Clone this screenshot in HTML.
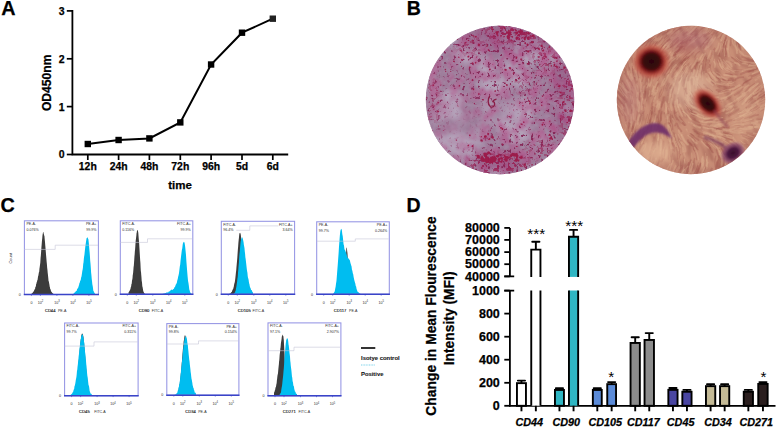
<!DOCTYPE html>
<html><head><meta charset="utf-8"><style>
html,body{margin:0;padding:0;background:#fff;overflow:hidden;width:778px;height:428px;}
svg{display:block;}
text{font-family:"Liberation Sans",sans-serif;}
.b{font-weight:bold;stroke:#000;stroke-width:0.25px;}
.bi{font-weight:bold;font-style:italic;stroke:#000;stroke-width:0.25px;}
.r{font-weight:normal;}
.t{font-size:3.6px;fill:#2a2a2a;}
.t2{font-size:4.15px;fill:#111;stroke:#111;stroke-width:0.12px;}
</style></head><body>
<svg width="778" height="428" viewBox="0 0 778 428">
<defs>
<clipPath id="cL"><circle cx="500" cy="100" r="74.2"/></clipPath>
<clipPath id="cR"><circle cx="691" cy="100" r="74.2"/></clipPath>
<radialGradient id="gL" cx="0.35" cy="0.6" r="0.6">
  <stop offset="0" stop-color="#c8c0cc" stop-opacity="0.5"/>
  <stop offset="1" stop-color="#c8c0cc" stop-opacity="0"/>
</radialGradient>
<radialGradient id="gR" cx="0.5" cy="0.5" r="0.5">
  <stop offset="0.8" stop-color="#a06060" stop-opacity="0"/>
  <stop offset="1" stop-color="#a06060" stop-opacity="0.25"/>
</radialGradient>
<radialGradient id="spot1" cx="0.5" cy="0.5" r="0.5">
  <stop offset="0" stop-color="#2a0508"/>
  <stop offset="0.42" stop-color="#3a0a0c"/>
  <stop offset="0.55" stop-color="#7a1a1c"/>
  <stop offset="0.72" stop-color="#b8463a" stop-opacity="0.8"/>
  <stop offset="1" stop-color="#d07060" stop-opacity="0"/>
</radialGradient>
<radialGradient id="spot2" cx="0.5" cy="0.5" r="0.5">
  <stop offset="0" stop-color="#3a0e2a"/>
  <stop offset="0.4" stop-color="#4e1a40"/>
  <stop offset="0.7" stop-color="#7a3a66" stop-opacity="0.7"/>
  <stop offset="1" stop-color="#8a4070" stop-opacity="0"/>
</radialGradient>
<filter id="soft"><feGaussianBlur stdDeviation="0.6"/></filter>
<filter id="soft1" x="-20%" y="-20%" width="140%" height="140%"><feGaussianBlur stdDeviation="1.2"/></filter>
<filter id="blur3" x="-50%" y="-50%" width="200%" height="200%"><feGaussianBlur stdDeviation="5"/></filter>
<filter id="fRed" x="0" y="0" width="100%" height="100%" color-interpolation-filters="sRGB">
  <feTurbulence type="fractalNoise" baseFrequency="0.32" numOctaves="2" seed="4"/>
  <feColorMatrix type="matrix" values="0 0 0 0 0.53  0 0 0 0 0.16  0 0 0 0 0.35  9 0 0 0 -5.5"/>
  <feGaussianBlur stdDeviation="0.5"/>
</filter>
<filter id="fRed2" x="0" y="0" width="100%" height="100%" color-interpolation-filters="sRGB">
  <feTurbulence type="fractalNoise" baseFrequency="0.25" numOctaves="3" seed="21"/>
  <feColorMatrix type="matrix" values="0 0 0 0 0.60  0 0 0 0 0.12  0 0 0 0 0.32  22 0 0 0 -12.2"/>
  <feGaussianBlur stdDeviation="0.6"/>
</filter>
<filter id="fGrain" x="0" y="0" width="100%" height="100%" color-interpolation-filters="sRGB">
  <feTurbulence type="fractalNoise" baseFrequency="0.45" numOctaves="2" seed="11"/>
  <feColorMatrix type="matrix" values="0 0 0 0 0.68  0 0 0 0 0.60  0 0 0 0 0.70  3 0 0 0 -1.35"/>
  <feGaussianBlur stdDeviation="0.8"/>
</filter>
<filter id="fLight" x="0" y="0" width="100%" height="100%" color-interpolation-filters="sRGB">
  <feTurbulence type="fractalNoise" baseFrequency="0.03" numOctaves="2" seed="15"/>
  <feColorMatrix type="matrix" values="0 0 0 0 0.71  0 0 0 0 0.64  0 0 0 0 0.73  6 0 0 0 -2.8"/>
  <feGaussianBlur stdDeviation="1.5"/>
</filter>
<filter id="fPink" x="0" y="0" width="100%" height="100%" color-interpolation-filters="sRGB">
  <feTurbulence type="fractalNoise" baseFrequency="0.1" numOctaves="3" seed="9"/>
  <feColorMatrix type="matrix" values="0 0 0 0 0.70  0 0 0 0 0.33  0 0 0 0 0.54  6 0 0 0 -2.6"/>
  <feGaussianBlur stdDeviation="1.0"/>
</filter>
<filter id="fStreak" x="0" y="0" width="100%" height="100%" color-interpolation-filters="sRGB">
  <feTurbulence type="fractalNoise" baseFrequency="0.2 0.06" numOctaves="3" seed="2"/>
  <feColorMatrix type="matrix" values="0 0 0 0 0.60  0 0 0 0 0.33  0 0 0 0 0.30  4 0 0 0 -1.85"/>
  <feGaussianBlur stdDeviation="0.8"/>
</filter>
<filter id="fStreak2" x="0" y="0" width="100%" height="100%" color-interpolation-filters="sRGB">
  <feTurbulence type="fractalNoise" baseFrequency="0.07 0.2" numOctaves="3" seed="7"/>
  <feColorMatrix type="matrix" values="0 0 0 0 0.93  0 0 0 0 0.78  0 0 0 0 0.66  4 0 0 0 -2.0"/>
  <feGaussianBlur stdDeviation="0.8"/>
</filter>
<mask id="mPink" maskUnits="userSpaceOnUse" x="420" y="20" width="160" height="160">
  <rect x="420" y="20" width="160" height="160" fill="#c0c0c0"/>
  <g filter="url(#blur8)">
  <ellipse cx="520" cy="45" rx="45" ry="20" fill="#fff"/>
  <ellipse cx="560" cy="110" rx="15" ry="40" fill="#eee"/>
  <ellipse cx="495" cy="160" rx="35" ry="12" fill="#eee"/>
  <ellipse cx="458" cy="125" rx="22" ry="30" fill="#404040"/>
  <ellipse cx="510" cy="108" rx="14" ry="14" fill="#606060"/>
  <ellipse cx="455" cy="60" rx="14" ry="14" fill="#707070"/>
  </g>
</mask>
<mask id="mRedBase" maskUnits="userSpaceOnUse" x="420" y="20" width="160" height="160">
  <rect x="420" y="20" width="160" height="160" fill="#fff"/>
  <g filter="url(#blur8)">
  <ellipse cx="462" cy="128" rx="26" ry="28" fill="#202020"/>
  <ellipse cx="505" cy="110" rx="14" ry="16" fill="#404040"/>
  <ellipse cx="445" cy="75" rx="12" ry="16" fill="#606060"/>
  </g>
</mask>
<mask id="mRed" maskUnits="userSpaceOnUse" x="420" y="20" width="160" height="160">
  <rect x="420" y="20" width="160" height="160" fill="#000"/>
  <g filter="url(#blur6)">
  <ellipse cx="515" cy="33" rx="32" ry="9" fill="#fff"/>
  <ellipse cx="470" cy="45" rx="14" ry="8" fill="#999"/>
  <ellipse cx="568" cy="105" rx="8" ry="40" fill="#ccc"/>
  <ellipse cx="545" cy="60" rx="14" ry="12" fill="#aaa"/>
  <ellipse cx="497" cy="165" rx="30" ry="9" fill="#fff"/>
  <ellipse cx="540" cy="150" rx="14" ry="10" fill="#999"/>
  <ellipse cx="432" cy="100" rx="6" ry="25" fill="#888"/>
  <ellipse cx="525" cy="85" rx="10" ry="10" fill="#777"/>
  </g>
</mask>
<filter id="blur6" x="-50%" y="-50%" width="200%" height="200%"><feGaussianBlur stdDeviation="5"/></filter>
<filter id="blur8" x="-50%" y="-50%" width="200%" height="200%"><feGaussianBlur stdDeviation="8"/></filter>
</defs>
<rect width="778" height="428" fill="#fff"/>
<text x="1.2" y="15.4" class="b" font-size="19.8">A</text>
<path d="M72.4 10.1V155.3M71.6 154.5H288.2" stroke="#000" stroke-width="1.8" fill="none"/>
<path d="M66.8 154.5H72.5" stroke="#000" stroke-width="1.7"/>
<text x="64.6" y="158.4" class="b" font-size="10.5" text-anchor="end">0</text>
<path d="M66.8 106.6H72.5" stroke="#000" stroke-width="1.7"/>
<text x="64.6" y="110.5" class="b" font-size="10.5" text-anchor="end">1</text>
<path d="M66.8 58.8H72.5" stroke="#000" stroke-width="1.7"/>
<text x="64.6" y="62.7" class="b" font-size="10.5" text-anchor="end">2</text>
<path d="M66.8 10.9H72.5" stroke="#000" stroke-width="1.7"/>
<text x="64.6" y="14.8" class="b" font-size="10.5" text-anchor="end">3</text>
<path d="M87.8 154.5V160" stroke="#000" stroke-width="1.7"/>
<text x="87.8" y="170.2" class="b" font-size="10.4" text-anchor="middle">12h</text>
<path d="M118.6 154.5V160" stroke="#000" stroke-width="1.7"/>
<text x="118.6" y="170.2" class="b" font-size="10.4" text-anchor="middle">24h</text>
<path d="M149.4 154.5V160" stroke="#000" stroke-width="1.7"/>
<text x="149.4" y="170.2" class="b" font-size="10.4" text-anchor="middle">48h</text>
<path d="M180.3 154.5V160" stroke="#000" stroke-width="1.7"/>
<text x="180.3" y="170.2" class="b" font-size="10.4" text-anchor="middle">72h</text>
<path d="M211.1 154.5V160" stroke="#000" stroke-width="1.7"/>
<text x="211.1" y="170.2" class="b" font-size="10.4" text-anchor="middle">96h</text>
<path d="M242 154.5V160" stroke="#000" stroke-width="1.7"/>
<text x="242" y="170.2" class="b" font-size="10.4" text-anchor="middle">5d</text>
<path d="M272.8 154.5V160" stroke="#000" stroke-width="1.7"/>
<text x="272.8" y="170.2" class="b" font-size="10.4" text-anchor="middle">6d</text>
<text x="180" y="188.9" class="b" font-size="11.5" text-anchor="middle">time</text>
<text transform="translate(51.2 82.8) rotate(-90)" class="b" font-size="12.1" text-anchor="middle">OD450nm</text>
<polyline points="87.8,144 118.6,140 149.4,138.4 180.3,122.4 211.1,64.5 242,32.7 272.8,18.7" fill="none" stroke="#000" stroke-width="2"/>
<rect x="84.6" y="140.8" width="6.4" height="6.4" fill="#000"/>
<rect x="115.39999999999999" y="136.8" width="6.4" height="6.4" fill="#000"/>
<rect x="146.20000000000002" y="135.20000000000002" width="6.4" height="6.4" fill="#000"/>
<rect x="177.10000000000002" y="119.2" width="6.4" height="6.4" fill="#000"/>
<rect x="207.9" y="61.3" width="6.4" height="6.4" fill="#000"/>
<rect x="238.8" y="29.500000000000004" width="6.4" height="6.4" fill="#000"/>
<rect x="269.6" y="15.5" width="6.4" height="6.4" fill="#222"/>
<text x="406.7" y="15.2" class="b" font-size="19.5">B</text>
<g clip-path="url(#cL)">
<rect x="420" y="20" width="160" height="160" fill="#9c7a98"/>
<rect x="420" y="20" width="160" height="160" filter="url(#fLight)"/>
<rect x="420" y="20" width="160" height="160" filter="url(#fPink)" mask="url(#mPink)"/>
<rect x="420" y="20" width="160" height="160" filter="url(#fGrain)"/>
<g filter="url(#blur6)" opacity="0.35">
<ellipse cx="512" cy="38" rx="50" ry="14" fill="#8a3a70"/>
<ellipse cx="562" cy="95" rx="10" ry="40" fill="#8a3a70"/>
<ellipse cx="495" cy="163" rx="35" ry="10" fill="#8a3a70"/>
</g>
<rect x="420" y="20" width="160" height="160" filter="url(#fRed)" mask="url(#mRedBase)"/>
<rect x="420" y="20" width="160" height="160" filter="url(#fRed2)" mask="url(#mRed)"/>
<g fill="#9c1c4c" filter="url(#soft)"><polygon points="487.6,154.2 485.6,155.6 484.3,155.4 484.5,154.1 486.3,153.2"/>
<polygon points="487.1,154.7 487.2,157.4 484.1,156.7 483.5,155.4 483.3,153.1 486.4,152.5"/>
<polygon points="496.3,159.3 496.3,161.3 492.8,162.8 490.8,160.6 491.5,158.8 494.3,156.1 495.6,157.5"/>
<polygon points="490.5,152.9 490.1,153.5 488.1,154.4 486.8,153.6 487.2,152.2 488.2,151.2 489.8,151.8"/>
<polygon points="499.6,156.7 497.3,157.8 496.0,157.1 495.5,155.4 497.9,154.7"/>
<polygon points="495.7,157.1 494.9,158.2 493.0,157.8 493.1,156.4 494.8,156.1"/>
<polygon points="486.8,155.8 486.2,156.6 484.4,156.0 484.9,154.7 486.2,153.8"/>
<polygon points="492.7,159.3 491.8,160.5 490.2,161.3 489.0,160.0 489.9,158.7 491.1,158.2"/>
<polygon points="492.8,159.8 492.0,161.5 489.8,161.4 488.9,160.1 489.8,158.7 491.3,158.8"/>
<polygon points="485.5,159.8 483.9,161.7 482.4,161.7 481.0,160.2 481.0,158.6 482.7,158.1 483.9,157.6"/>
<polygon points="490.3,158.7 488.0,161.6 485.6,160.5 485.4,156.9 487.7,156.7"/>
<polygon points="493.4,160.3 492.6,163.4 490.8,163.1 489.5,161.3 490.3,158.5 492.0,158.5"/>
<polygon points="489.3,159.4 488.3,161.0 485.0,160.5 485.2,158.2 488.2,156.1"/>
<polygon points="491.5,162.7 490.3,164.0 489.0,163.5 488.6,161.7 490.0,161.5"/>
<polygon points="490.1,161.1 487.7,162.7 486.1,163.6 484.2,160.4 486.0,158.8 488.5,159.1"/>
<polygon points="479.9,156.8 479.9,158.7 477.0,158.5 476.7,157.0 476.6,154.8 479.5,154.9"/>
<polygon points="484.4,158.9 483.8,159.7 482.7,160.1 482.3,159.1 483.0,157.9 483.8,158.0"/>
<polygon points="488.0,159.8 488.4,161.7 486.4,162.1 485.9,160.0 485.3,159.3 487.0,157.5 488.5,157.8"/>
<polygon points="483.7,158.0 482.7,159.7 480.5,160.2 480.1,157.4 482.2,156.8"/>
<polygon points="494.0,157.3 493.0,159.9 491.1,158.4 489.5,156.9 491.1,156.8 492.6,156.0"/>
<polygon points="483.5,157.7 482.2,158.4 481.2,158.8 481.1,157.5 481.5,156.0 482.7,155.9"/>
<polygon points="492.3,158.1 491.5,159.9 490.4,159.1 490.1,157.2 491.4,157.5"/>
<polygon points="501.2,162.1 500.6,162.5 499.5,162.5 499.2,161.9 498.9,160.9 499.7,160.5 500.6,161.0"/>
<polygon points="500.9,158.8 499.8,160.4 498.5,161.1 497.9,159.4 498.5,157.6 500.5,157.9"/>
<polygon points="497.3,158.5 494.9,160.8 493.3,160.0 493.7,157.8 495.8,157.5"/>
<polygon points="491.6,153.8 490.8,154.3 489.9,154.5 489.0,154.0 490.1,153.0 490.8,153.3"/>
<polygon points="499.5,160.1 499.7,160.9 497.9,160.8 497.4,159.8 498.1,158.7 499.0,158.7"/>
<polygon points="494.8,158.8 494.2,160.5 491.9,160.5 492.2,158.4 493.6,157.6"/>
<polygon points="502.6,161.5 502.4,162.2 501.8,162.9 500.6,162.3 500.8,161.0 501.6,160.7 502.5,161.1"/>
<polygon points="494.7,159.9 494.1,160.7 493.3,160.6 493.1,159.3 494.4,159.2"/>
<polygon points="486.7,157.0 486.4,157.5 485.6,158.4 485.1,156.9 485.0,155.9 486.4,155.7"/>
<polygon points="500.6,155.0 499.1,156.0 498.1,156.0 497.3,155.6 498.0,154.4 499.3,154.0"/>
<polygon points="491.0,160.1 490.2,161.3 489.0,161.2 488.5,159.3 490.8,159.1"/>
<polygon points="503.1,158.7 501.9,159.0 500.9,159.4 500.8,158.5 501.1,157.2 502.4,157.5"/>
<polygon points="522.1,158.1 521.1,158.8 519.9,158.3 518.6,158.0 519.3,156.4 520.5,156.8"/>
<polygon points="508.0,158.9 506.8,161.1 505.2,160.8 503.2,159.9 504.4,158.5 505.3,156.6 506.7,158.4"/>
<polygon points="508.3,157.3 507.0,158.1 505.8,158.0 506.2,156.7 507.0,156.2"/>
<polygon points="513.3,154.7 511.9,156.9 510.8,157.4 509.4,155.8 510.2,154.5 511.3,154.0 511.6,154.3"/>
<polygon points="507.5,160.6 506.2,161.9 505.0,161.2 505.2,159.6 505.9,159.5"/>
<polygon points="510.1,157.3 509.4,157.9 508.5,158.1 508.1,157.3 508.5,156.9 508.8,156.0 509.6,156.3"/>
<polygon points="506.7,157.1 506.5,157.9 505.7,157.6 505.2,157.4 505.1,156.8 505.4,156.0 506.3,156.0"/>
<polygon points="506.6,157.0 506.1,157.7 504.3,157.8 504.0,155.6 506.2,155.9"/>
<polygon points="507.7,160.5 507.4,161.6 505.9,161.0 505.8,160.1 506.9,159.5"/>
<polygon points="509.7,157.6 508.2,159.6 505.9,158.2 505.6,156.7 507.1,155.8"/>
<polygon points="518.3,156.7 517.7,157.4 516.9,159.2 515.9,157.0 515.2,156.1 516.6,154.3 518.6,155.3"/>
<polygon points="516.3,155.2 515.4,156.7 513.4,156.4 512.2,155.0 513.5,153.0 515.6,153.4"/>
<polygon points="518.0,154.2 517.0,155.8 515.3,156.1 514.1,155.1 515.1,153.5 517.1,152.8"/>
<polygon points="505.5,155.3 505.0,156.7 503.7,155.9 503.5,154.6 504.6,154.8"/>
<polygon points="514.8,154.8 514.4,156.1 512.0,156.1 511.0,154.1 512.2,152.7 514.1,153.2"/>
<polygon points="517.8,158.4 516.5,159.9 514.9,160.2 515.4,158.4 516.2,158.0"/>
<polygon points="519.4,160.7 518.8,161.7 517.8,161.4 517.2,159.9 519.4,159.3"/>
<polygon points="525.7,164.5 525.8,165.7 525.1,166.1 524.0,165.4 523.7,163.6 524.6,163.5 525.6,163.4"/>
<polygon points="528.5,157.3 528.2,158.3 527.4,157.9 527.5,157.0 528.2,156.9"/>
<polygon points="522.9,157.0 522.5,158.0 520.9,159.0 520.0,157.4 521.0,155.8 522.5,156.5"/>
<polygon points="518.3,156.8 517.5,157.5 517.1,158.1 516.0,157.7 516.3,156.8 516.8,156.4 517.7,156.3"/>
<polygon points="518.3,159.6 517.0,162.1 514.1,161.2 515.0,159.4 516.7,158.8"/>
<polygon points="487.0,137.2 486.2,137.5 484.8,138.2 484.3,137.8 483.9,136.3 484.7,135.3 486.4,135.2"/>
<polygon points="493.9,137.3 493.5,138.8 491.9,138.6 491.1,137.5 492.1,135.7 493.0,135.7"/>
<polygon points="498.0,139.1 497.4,139.4 496.6,139.3 496.7,138.7 497.4,138.3"/>
<polygon points="482.8,140.5 482.7,141.7 480.2,141.3 480.6,139.3 482.2,139.5"/>
<polygon points="490.2,138.7 490.3,139.9 488.4,139.8 487.7,139.2 488.8,138.4 490.4,137.7"/>
<polygon points="489.2,133.8 488.7,135.1 487.9,135.4 487.4,134.2 487.2,133.1 487.4,132.8 488.8,133.1"/>
<polygon points="552.2,138.6 550.9,139.6 550.0,139.7 549.0,138.8 549.7,137.3 551.1,137.2"/>
<polygon points="550.3,140.4 550.1,140.8 549.6,141.0 549.1,140.6 549.1,140.0 549.7,140.0 550.0,140.1"/>
<polygon points="552.2,137.1 552.1,138.2 550.8,138.1 550.1,137.2 550.9,135.9 551.9,136.3"/>
<polygon points="553.0,138.9 553.0,139.9 551.9,139.7 551.3,139.5 551.0,138.8 551.7,138.3 553.0,138.3"/>
<polygon points="550.1,134.8 550.4,135.6 549.1,135.9 548.3,135.7 548.8,134.4 549.0,133.6 549.9,133.9"/>
<polygon points="476.8,155.6 476.1,156.2 475.2,155.9 475.1,155.4 476.2,154.9"/>
<polygon points="469.1,145.4 468.8,146.1 467.9,146.7 467.4,145.3 467.8,144.8 469.3,144.5"/>
<polygon points="469.5,150.1 469.0,150.5 468.7,150.4 468.6,149.8 469.1,149.2"/>
<polygon points="473.5,145.9 472.9,147.3 471.4,146.7 471.8,145.4 473.2,144.8"/>
<polygon points="525.2,166.6 524.8,167.1 524.0,166.9 524.4,166.3 525.0,165.8"/>
<polygon points="528.2,164.1 527.9,164.7 527.3,164.3 527.1,163.9 527.8,163.2"/>
<polygon points="532.9,165.0 532.3,165.6 531.0,165.3 531.2,164.5 532.6,163.9"/>
<polygon points="494.3,36.4 493.9,36.8 493.0,36.9 493.4,36.0 494.0,35.9"/>
<polygon points="504.9,36.6 504.3,37.2 503.8,37.4 503.1,36.9 503.4,36.5 503.7,35.9 504.8,36.1"/>
<polygon points="498.5,35.2 498.5,36.2 497.3,36.5 497.1,35.5 496.5,34.8 497.0,34.0 498.2,34.6"/>
<polygon points="523.4,31.2 522.7,31.8 522.3,31.9 521.9,31.7 521.7,31.1 522.4,30.3 522.8,30.6"/>
<polygon points="510.1,37.0 509.6,39.2 507.8,38.9 507.0,38.3 506.5,36.3 507.9,35.1 509.3,36.6"/>
<polygon points="526.9,34.4 526.4,35.7 524.8,35.3 525.4,33.8 526.3,33.3"/>
<polygon points="493.0,27.8 492.0,28.4 491.5,28.8 490.8,28.1 491.0,27.7 491.8,26.5 492.5,27.0"/>
<polygon points="509.7,30.6 509.3,31.5 508.7,31.9 507.7,31.1 508.1,30.6 508.4,29.8 509.4,30.1"/>
<polygon points="525.4,38.5 524.9,40.2 523.9,39.3 523.8,38.0 524.5,37.7"/>
<polygon points="518.6,32.9 517.5,33.5 516.8,34.2 515.3,33.8 515.3,31.6 517.0,31.4 517.9,32.0"/>
<polygon points="509.7,30.8 509.5,31.2 508.6,31.2 508.5,30.6 508.9,30.3 509.4,30.3"/>
<polygon points="529.7,33.3 529.0,34.2 527.6,34.4 527.0,33.8 527.4,32.7 527.5,31.4 529.1,32.0"/>
<polygon points="505.6,28.2 504.7,28.5 504.1,28.9 503.5,28.2 503.4,27.5 503.8,26.8 505.0,26.7"/>
<polygon points="519.2,37.2 518.6,37.5 518.2,37.8 517.6,37.2 518.1,36.7 518.7,36.4"/>
<polygon points="518.2,33.1 517.0,34.8 515.8,34.2 515.6,32.3 517.0,32.5"/>
<polygon points="518.9,37.8 517.4,39.7 516.1,40.0 515.4,38.0 516.2,36.6 517.8,36.8"/>
<polygon points="521.9,31.8 520.8,33.9 519.1,33.1 517.3,31.6 518.5,30.6 520.9,30.3"/>
<polygon points="522.4,38.0 521.9,39.0 521.3,38.3 521.1,37.5 521.9,37.4"/>
<polygon points="508.4,31.9 507.4,33.1 506.7,32.9 505.9,32.3 506.4,31.0 507.8,31.4"/>
<polygon points="510.1,35.1 509.4,35.5 508.3,35.8 507.7,34.8 507.9,33.5 509.1,34.1"/>
<polygon points="513.2,37.0 512.5,37.7 512.0,37.9 511.5,36.9 511.6,36.2 511.7,35.8 512.6,35.9"/>
<polygon points="526.0,37.1 525.0,38.0 524.4,37.9 523.6,37.9 523.6,36.5 524.6,36.7 525.2,36.7"/>
<polygon points="510.0,33.4 509.8,35.1 508.6,34.4 507.7,33.8 506.8,32.6 508.0,31.8 510.1,31.1"/>
<polygon points="526.7,33.0 525.9,33.8 525.3,33.7 524.8,32.4 525.6,32.3"/>
<polygon points="516.1,35.1 515.6,35.6 514.4,35.3 514.8,34.7 515.8,34.2"/>
<polygon points="508.7,35.6 508.5,36.4 507.8,36.6 507.4,36.0 507.3,35.4 507.9,35.3 508.3,35.3"/>
<polygon points="534.8,35.8 533.3,37.2 532.6,37.0 531.3,36.4 531.9,34.7 533.8,34.4"/>
<polygon points="512.9,30.0 512.8,31.3 511.4,30.5 511.3,29.1 512.3,29.2"/>
<polygon points="520.0,35.3 519.4,36.3 518.3,35.8 518.0,34.6 519.4,33.9"/>
<polygon points="494.2,29.7 493.3,30.1 492.4,30.1 491.1,29.7 492.6,28.4 493.1,28.5"/>
<polygon points="498.7,32.5 497.6,34.3 496.6,35.3 496.1,33.7 495.0,31.8 496.4,31.6 498.0,31.8"/>
<polygon points="524.7,34.7 524.6,35.5 523.9,35.0 524.0,34.5 524.4,34.5"/>
<polygon points="550.6,47.0 549.6,47.9 548.5,48.0 548.5,46.6 549.9,46.1"/>
<polygon points="528.9,37.7 528.6,39.0 526.3,38.6 527.1,37.2 528.2,36.2"/>
<polygon points="529.9,33.8 529.5,34.3 529.0,34.0 528.5,33.7 528.8,33.2 529.7,33.3"/>
<polygon points="503.8,43.8 503.7,44.4 503.1,44.1 502.7,43.5 503.7,43.1"/>
<polygon points="528.9,44.6 528.2,46.0 527.0,46.2 526.5,45.2 526.6,44.2 527.2,43.1 527.8,44.0"/>
<polygon points="520.1,39.5 519.6,40.2 518.7,39.9 517.7,39.1 518.7,38.4 519.7,37.5"/>
<polygon points="525.8,39.6 525.3,40.5 524.5,40.5 524.2,40.1 524.2,39.3 524.5,38.5 525.5,38.6"/>
<polygon points="511.0,36.4 509.9,36.5 508.2,37.4 508.2,36.2 508.8,35.0 510.1,34.4"/>
<polygon points="511.5,32.9 511.4,33.6 510.3,34.3 508.9,33.3 509.9,32.6 510.7,31.3 511.5,32.2"/>
<polygon points="529.1,37.0 528.8,38.1 527.3,38.2 527.5,37.3 527.7,36.7 528.8,36.5"/>
<polygon points="528.7,39.0 528.9,39.9 528.0,39.9 527.0,39.6 527.4,38.8 528.1,38.3 528.4,38.8"/>
<polygon points="533.7,47.1 533.2,47.6 532.7,47.2 532.5,46.6 533.3,46.5"/>
<polygon points="526.2,43.2 525.7,44.3 524.3,43.7 524.4,42.5 525.6,42.1"/>
<polygon points="533.5,42.7 532.7,43.3 531.8,43.7 531.4,42.5 531.7,41.1 532.8,41.2"/>
<polygon points="529.9,36.9 529.4,37.4 528.7,37.3 528.6,36.7 529.7,36.2"/>
<polygon points="527.5,32.9 527.7,34.1 526.7,33.8 525.8,33.3 525.4,32.5 526.8,31.7 527.1,32.3"/>
<polygon points="477.0,37.1 476.0,37.5 475.3,37.6 474.5,36.7 475.0,36.1 476.3,35.7"/>
<polygon points="489.5,50.2 489.7,51.3 488.3,51.1 487.5,50.1 488.5,49.0 489.2,49.6"/>
<polygon points="480.1,44.6 479.6,46.3 478.3,46.2 477.6,44.9 478.6,43.2 479.6,43.7"/>
<polygon points="474.0,40.5 473.8,41.4 473.1,41.3 472.1,41.0 472.1,39.8 472.7,39.4 473.7,40.2"/>
<polygon points="473.7,35.9 473.6,37.2 472.8,36.6 472.1,35.8 472.4,35.1 473.6,34.9"/>
<polygon points="487.8,46.2 487.7,46.8 486.9,46.8 486.2,46.7 486.2,45.7 487.1,45.5 487.6,45.4"/>
<polygon points="469.3,40.4 468.9,41.0 468.0,41.1 467.7,40.5 467.7,40.2 468.3,39.7 468.6,39.7"/>
<polygon points="487.3,43.9 486.9,44.8 486.1,44.2 486.2,43.7 487.1,43.4"/>
<polygon points="524.1,53.9 524.2,54.3 523.6,54.4 523.1,54.3 523.4,53.7 523.5,53.3 524.1,53.4"/>
<polygon points="542.9,46.4 543.0,47.4 541.3,47.1 540.6,46.8 540.5,45.4 540.7,44.8 542.4,44.5"/>
<polygon points="557.6,58.4 556.8,58.9 556.2,58.9 555.4,58.0 556.0,57.2 556.7,57.5"/>
<polygon points="539.6,56.9 539.4,58.1 538.5,57.7 537.6,57.5 537.6,56.2 538.7,56.2 539.7,55.9"/>
<polygon points="536.6,75.5 536.9,76.2 535.9,76.3 535.4,75.7 535.6,75.0 536.6,74.8"/>
<polygon points="523.1,63.7 522.4,64.3 522.1,64.2 522.1,63.5 522.8,63.2"/>
<polygon points="558.3,60.6 557.7,61.6 556.6,62.1 556.0,60.7 556.6,60.4 557.4,60.4"/>
<polygon points="558.0,66.9 557.3,68.2 556.1,67.3 555.3,66.0 557.2,66.1"/>
<polygon points="539.8,49.0 539.9,50.2 538.8,50.1 537.7,49.1 537.5,48.1 538.5,47.4 539.5,47.7"/>
<polygon points="555.3,65.3 555.0,66.5 553.8,65.8 553.4,65.1 553.9,64.0 555.0,63.8"/>
<polygon points="555.6,57.0 555.2,57.6 554.7,57.8 554.1,57.3 554.7,56.8 555.2,56.7"/>
<polygon points="528.7,63.4 528.2,64.6 527.5,64.8 526.8,64.3 526.8,63.0 527.3,62.9 528.1,63.0"/>
<polygon points="544.4,50.0 543.4,51.8 542.0,51.0 542.2,50.0 543.6,49.2"/>
<polygon points="540.8,64.3 540.0,65.1 539.5,65.2 539.1,64.6 539.6,63.8 540.0,64.0"/>
<polygon points="544.7,47.3 544.9,48.0 544.1,48.1 543.7,47.6 543.4,46.8 544.0,46.7 544.5,47.0"/>
<polygon points="529.4,50.8 529.0,52.4 527.4,52.4 527.0,51.2 527.8,50.6 528.6,50.2"/>
<polygon points="571.5,111.0 571.2,112.1 570.1,111.9 569.3,111.9 569.3,110.3 570.4,109.8 571.3,109.8"/>
<polygon points="560.8,85.7 559.8,87.5 557.4,86.7 558.4,85.5 559.5,84.7"/>
<polygon points="568.4,100.0 567.6,100.6 566.8,100.6 566.6,99.3 567.4,99.3"/>
<polygon points="561.7,91.7 561.3,93.0 560.1,93.3 559.3,92.5 559.3,91.5 559.6,91.2 560.8,91.7"/>
<polygon points="567.0,110.9 566.5,111.8 565.2,111.9 564.7,111.6 564.3,110.2 564.9,109.6 566.0,110.3"/>
<polygon points="558.3,134.0 557.9,134.7 557.4,134.3 557.3,133.6 558.1,133.5"/>
<polygon points="572.9,89.3 571.6,89.7 570.1,89.7 570.8,88.1 572.3,87.7"/>
<polygon points="564.5,102.2 564.2,103.2 562.8,103.4 561.8,102.3 562.8,101.2 563.7,101.0 564.7,100.5"/>
<polygon points="572.1,110.3 571.7,111.3 570.8,111.8 570.0,111.1 569.9,110.4 570.5,109.2 571.5,110.1"/>
<polygon points="570.0,96.2 569.8,96.9 569.1,96.9 568.8,95.8 569.7,95.7"/>
<polygon points="566.1,67.9 564.9,68.7 563.3,68.7 563.4,66.6 565.3,66.4"/>
<polygon points="568.1,122.6 567.9,122.9 567.2,123.3 566.6,122.7 566.4,122.1 567.2,121.9 567.9,121.7"/>
<polygon points="529.6,115.6 529.2,115.9 528.5,115.8 528.5,115.0 528.9,115.1"/>
<polygon points="524.7,122.2 524.3,122.7 523.5,123.1 522.8,122.0 523.0,121.5 524.3,121.6"/>
<polygon points="531.0,103.5 530.3,103.9 529.0,104.4 529.1,103.4 529.5,102.2 530.9,102.2"/>
<polygon points="550.5,123.2 550.1,123.5 549.8,123.3 549.5,122.7 550.2,122.7"/>
<polygon points="572.4,111.1 571.7,111.5 571.0,111.7 570.4,111.0 570.9,110.1 571.7,110.4"/>
<polygon points="550.7,99.2 550.6,99.6 549.8,99.7 549.7,99.3 549.7,98.8 550.0,98.6 550.4,98.6"/>
<polygon points="561.3,104.9 560.5,105.9 559.5,105.5 559.0,104.4 560.8,103.9"/>
<polygon points="542.5,105.0 542.0,106.2 540.9,105.5 541.2,104.8 541.8,104.6"/>
<polygon points="551.9,65.4 552.2,66.3 550.5,66.4 550.7,65.3 550.5,64.4 551.6,64.9"/>
<polygon points="530.6,101.0 530.1,101.8 529.4,102.2 528.2,101.4 528.4,100.8 529.1,100.4 530.5,100.5"/>
<polygon points="534.6,85.0 534.5,85.8 534.0,85.6 533.4,84.8 533.7,84.4 534.6,84.4"/>
<polygon points="543.4,95.9 543.0,96.8 542.4,96.9 541.8,96.3 541.6,95.5 542.3,95.5 542.9,95.5"/>
<polygon points="441.5,84.7 441.1,85.5 440.7,85.7 440.1,85.2 440.4,84.7 440.7,84.4 441.0,84.4"/>
<polygon points="434.3,85.3 433.7,85.7 433.5,86.2 432.5,85.5 432.9,84.8 433.4,84.6 433.9,84.4"/>
<polygon points="439.5,111.3 438.4,112.3 437.8,112.5 437.2,111.8 437.0,111.3 437.5,110.3 438.6,111.1"/>
<polygon points="438.9,126.1 439.0,126.5 438.2,126.7 438.1,126.2 438.0,125.9 438.5,125.4 438.8,125.3"/>
<polygon points="437.7,90.5 437.4,91.0 436.7,90.9 436.3,91.0 436.5,90.5 436.8,90.0 437.3,90.0"/>
<polygon points="436.1,81.1 435.6,81.5 435.0,81.5 434.8,81.2 435.2,80.8 435.5,80.7"/>
<polygon points="439.2,102.6 438.6,103.3 438.0,103.6 437.5,103.0 437.2,102.5 437.9,102.2 438.4,102.0"/>
<polygon points="434.3,109.2 434.1,109.8 433.8,109.7 433.4,109.4 433.6,109.0 434.3,108.5"/>
<polygon points="454.9,60.9 454.7,62.5 453.0,61.8 453.1,60.7 454.0,60.4"/>
<polygon points="459.6,85.5 459.3,86.2 458.8,86.0 459.0,85.4 459.3,85.2"/>
<polygon points="474.4,88.9 473.8,90.3 473.0,90.2 472.5,89.3 473.1,88.6 473.7,87.9"/>
<polygon points="462.2,50.7 461.3,51.8 460.5,51.1 460.0,49.9 461.3,50.2"/>
<polygon points="473.3,79.8 472.9,80.8 472.3,81.2 471.4,80.3 471.7,80.0 472.1,79.1 473.2,79.3"/>
<polygon points="473.4,63.2 473.2,64.2 472.3,64.7 471.7,63.0 472.1,62.3 473.3,62.7"/>
<polygon points="446.5,71.4 446.0,72.0 445.7,72.2 445.2,71.8 445.2,71.2 445.4,70.8 446.0,70.9"/>
<polygon points="459.5,57.5 459.5,58.3 458.6,57.8 457.9,57.6 458.0,57.3 458.7,56.3 459.2,57.1"/>
<polygon points="476.6,62.4 475.8,63.7 475.1,63.5 475.1,61.8 475.9,61.9"/>
<polygon points="469.4,57.0 468.8,57.6 467.6,57.4 467.4,56.1 469.1,55.5"/>
<polygon points="513.0,81.8 512.4,82.3 511.6,82.2 511.8,81.3 512.4,81.4"/>
<polygon points="470.8,67.8 469.7,67.9 468.7,68.4 469.0,67.5 469.0,66.7 470.4,66.5"/>
<polygon points="462.1,66.1 461.8,66.6 461.3,66.9 460.9,66.4 460.9,65.8 461.5,65.7 461.8,65.8"/>
<polygon points="496.1,75.7 495.8,76.5 495.2,76.5 495.2,76.0 495.1,75.7 495.3,75.4 495.8,75.4"/>
<polygon points="506.8,89.2 506.7,89.7 506.1,89.4 506.1,88.9 506.6,88.9"/>
<polygon points="462.6,59.6 462.5,60.9 461.3,60.5 460.9,59.6 461.1,58.9 462.1,59.4"/>
<polygon points="512.0,50.2 511.6,50.6 511.0,50.5 510.6,49.9 511.7,49.4"/>
<polygon points="511.3,68.0 510.4,69.8 509.2,68.7 508.4,67.7 510.0,66.8"/>
<polygon points="517.4,57.7 516.6,59.0 515.4,58.4 515.7,56.8 517.1,56.4"/>
<polygon points="506.8,69.6 506.5,70.8 504.7,70.7 504.3,69.5 504.7,68.8 506.2,69.1"/>
<polygon points="491.2,68.9 489.7,70.6 488.9,70.0 489.0,68.7 489.8,68.6"/>
<polygon points="505.6,83.5 505.7,84.2 504.9,84.1 504.7,83.8 504.8,83.4 505.0,83.2 505.5,82.8"/>
<polygon points="522.3,59.3 521.7,60.1 520.8,60.4 520.2,59.6 520.3,58.7 520.7,58.5 522.0,58.6"/>
<polygon points="511.9,70.6 511.5,71.1 511.2,71.0 511.1,70.4 511.7,70.0"/>
<polygon points="519.7,78.4 519.2,79.7 517.8,78.9 517.9,78.0 518.9,77.7"/>
<polygon points="479.9,94.2 479.4,94.5 478.9,95.3 478.2,94.6 477.9,93.9 478.9,92.7 479.5,93.6"/>
<polygon points="550.6,79.6 550.2,80.5 549.1,80.6 549.4,79.2 550.3,79.1"/>
<polygon points="508.0,84.7 507.4,85.9 506.2,85.8 505.8,84.8 506.3,84.0 507.1,84.2"/>
<polygon points="532.1,77.8 532.0,78.2 531.4,78.0 531.4,77.3 532.1,77.1"/>
<polygon points="496.3,90.8 495.7,91.7 494.7,91.9 494.3,90.9 494.9,90.2 495.4,90.3"/>
<polygon points="517.5,80.2 516.7,81.6 515.6,81.6 515.4,81.2 515.2,79.7 515.7,79.2 516.7,80.0"/>
<polygon points="502.0,127.4 501.4,128.9 500.0,128.2 500.1,127.2 501.1,126.9"/>
<polygon points="503.6,129.0 502.9,130.1 501.8,130.0 501.6,128.7 502.0,128.1 502.7,127.7"/>
<polygon points="520.3,103.5 519.7,103.7 519.3,103.9 518.8,103.1 519.2,102.8 519.9,102.8"/>
<polygon points="543.3,124.6 542.9,125.9 542.3,125.5 541.3,124.9 542.0,124.1 543.4,123.8"/>
<polygon points="550.7,121.4 549.8,121.7 548.9,122.0 549.3,120.9 550.1,120.6"/>
<polygon points="481.8,136.6 481.6,137.2 480.9,137.8 480.6,136.6 480.8,136.0 481.9,135.9"/>
<polygon points="518.0,146.8 516.9,147.1 516.3,147.1 515.5,146.4 516.4,145.9 517.1,146.0"/>
<polygon points="527.9,152.0 527.7,152.7 527.3,152.8 526.3,152.3 526.6,151.5 527.2,151.4 527.7,151.4"/>
<polygon points="523.7,105.6 523.4,106.4 522.1,106.0 522.3,105.2 523.1,105.1"/>
<polygon points="536.6,119.8 536.3,120.2 535.4,120.2 535.5,119.6 536.3,119.4"/>
<polygon points="531.6,113.0 531.5,113.4 531.0,113.3 530.9,113.2 530.6,112.8 531.0,112.5 531.7,112.3"/>
<polygon points="522.2,124.0 522.1,125.3 521.3,124.8 520.5,124.6 520.4,123.6 521.4,123.5 522.3,123.3"/>
<polygon points="539.9,135.5 539.4,136.2 538.9,136.0 538.6,135.5 539.5,135.1"/>
<polygon points="511.5,116.9 511.3,117.5 510.9,117.4 510.5,117.2 510.6,116.9 510.9,116.6 511.2,116.7"/>
<polygon points="457.1,140.4 456.6,140.8 456.0,140.8 455.7,140.1 455.8,139.4 456.7,139.4"/>
<polygon points="460.3,85.8 459.8,86.4 458.6,86.5 458.8,85.3 459.5,84.8"/>
<polygon points="493.2,64.4 492.8,64.7 492.5,64.5 492.4,64.2 492.9,63.8"/>
<polygon points="475.1,103.6 474.5,104.2 473.6,104.1 473.9,103.4 474.7,102.7"/>
<polygon points="471.2,135.3 470.3,135.7 469.6,136.2 468.9,135.6 469.3,134.9 469.6,134.3 470.5,134.8"/>
<polygon points="483.9,99.7 483.4,100.7 482.5,100.5 482.3,100.3 481.6,99.3 482.5,98.9 483.6,98.9"/>
<polygon points="545.9,57.0 545.6,57.4 544.8,57.5 544.8,56.2 545.6,55.9"/>
<polygon points="477.3,57.1 477.1,57.3 476.8,58.0 476.3,57.4 476.2,56.9 476.8,56.3 477.3,56.4"/>
<polygon points="490.8,130.7 490.8,131.1 490.3,131.2 489.8,130.9 489.9,130.5 490.4,130.3 490.8,130.4"/>
<polygon points="543.9,122.9 543.5,123.3 542.4,123.3 542.8,122.3 543.4,121.9"/>
<polygon points="530.1,153.1 529.9,153.4 529.7,153.4 529.1,153.1 529.4,152.7 530.2,152.7"/>
<polygon points="525.3,114.5 525.0,114.7 524.5,115.1 524.0,114.5 524.2,114.3 524.4,113.9 525.1,113.8"/>
<polygon points="514.0,110.1 514.1,110.5 513.4,110.5 513.1,110.1 513.5,109.4 514.0,109.4"/>
<polygon points="503.5,144.4 503.1,145.1 501.7,144.3 501.5,143.2 502.7,143.5"/>
<polygon points="524.9,99.4 525.0,99.9 524.2,100.2 524.1,99.5 523.8,98.8 524.3,98.8 524.7,98.8"/>
<polygon points="451.1,71.5 450.8,71.5 450.6,71.9 450.2,71.6 450.0,71.1 450.5,71.1 451.0,71.0"/>
<polygon points="522.8,102.8 522.3,103.4 521.9,103.5 521.5,102.7 522.0,102.2 522.4,102.5"/>
<polygon points="528.5,98.2 528.0,98.4 527.1,98.8 527.1,98.0 527.4,97.4 527.9,97.3"/>
<polygon points="537.2,83.2 536.9,83.5 536.3,83.9 536.0,83.2 536.6,82.6 537.3,82.5"/>
<polygon points="502.8,69.0 502.7,69.5 502.0,69.3 502.1,68.9 502.5,68.7"/>
<polygon points="512.6,40.4 511.9,40.6 511.0,40.7 510.5,40.3 510.6,39.3 511.7,39.6"/>
<polygon points="510.4,116.9 509.5,117.5 508.9,116.9 508.5,116.4 509.6,116.1"/>
<polygon points="444.0,130.4 444.0,130.8 443.4,130.8 443.2,130.3 443.5,130.1 444.0,129.9"/>
<polygon points="446.3,69.9 445.5,70.2 444.8,70.2 444.6,69.0 445.4,68.8"/>
<polygon points="544.6,58.1 544.3,58.7 543.5,59.3 543.4,58.4 543.4,57.3 544.1,57.7"/>
<polygon points="458.7,106.2 458.2,106.6 457.6,106.4 457.6,105.9 458.1,105.8"/>
<polygon points="536.1,100.6 535.9,100.8 535.3,101.1 535.0,100.5 535.6,100.1 536.2,99.9"/>
<polygon points="494.5,162.6 494.4,162.9 494.0,162.8 494.0,162.3 494.3,162.1"/>
<polygon points="466.6,42.6 466.2,43.3 465.5,43.6 465.0,42.5 465.5,42.0 466.2,41.5"/>
<polygon points="542.4,102.3 542.1,102.8 541.8,102.5 541.6,101.9 542.2,101.8"/>
<polygon points="501.1,130.1 501.0,130.5 500.5,130.3 500.5,129.9 501.0,129.8"/>
<polygon points="514.4,73.2 513.8,73.9 512.5,73.4 513.0,72.6 513.5,72.2"/>
<polygon points="523.8,48.0 523.8,48.4 523.1,48.4 523.0,47.9 523.3,47.7 523.7,47.6"/></g>
<path d="M490 95.5 C487.6 99 487.4 104.5 490.5 106.8 C493 108 495.3 105.5 494.5 103 C494 101.6 493 101.2 492.4 101.6 C493.6 100.2 495 99.2 496.5 99.3" stroke="#8a1c46" stroke-width="1.4" fill="none" filter="url(#soft)"/>
</g>
<g clip-path="url(#cR)">
<rect x="610" y="20" width="165" height="160" fill="#c98f77"/>
<rect x="600" y="10" width="185" height="180" filter="url(#fStreak)" transform="rotate(-25 691 100)" opacity="0.5"/>
<g fill="none" stroke="#a0564c" stroke-opacity="0.35" stroke-linecap="round" filter="url(#soft)"><path d="M616.1 90.2Q619.9 95.2 624.6 99.4" stroke-width="2.1"/><path d="M689.4 58.4Q686.1 61.8 683.4 65.6" stroke-width="0.8"/><path d="M659.9 157.3Q659.2 162.9 655.9 167.6" stroke-width="1.9"/><path d="M710.2 42.0Q707.5 43.1 707.1 46.0" stroke-width="1.1"/><path d="M746.2 70.7Q749.8 68.5 753.9 68.9" stroke-width="1.0"/><path d="M661.5 113.0Q660.5 115.4 661.0 118.0" stroke-width="1.3"/><path d="M735.9 99.5Q738.7 97.1 741.7 94.7" stroke-width="1.8"/><path d="M647.6 132.5Q643.8 137.7 643.3 144.2" stroke-width="1.3"/><path d="M698.4 68.1Q699.0 72.1 697.2 75.6" stroke-width="0.9"/><path d="M684.4 85.5Q682.7 88.2 684.3 91.0" stroke-width="0.8"/><path d="M631.0 87.2Q630.7 90.6 632.9 93.1" stroke-width="1.2"/><path d="M758.8 95.7Q762.9 93.8 766.0 90.4" stroke-width="1.5"/><path d="M725.4 45.2Q725.2 50.8 725.8 56.4" stroke-width="1.7"/><path d="M705.4 138.4Q709.1 141.9 713.8 144.0" stroke-width="0.8"/><path d="M680.2 119.8Q681.6 123.0 684.2 125.2" stroke-width="1.7"/><path d="M688.6 56.9Q687.8 59.9 684.9 60.9" stroke-width="1.2"/><path d="M658.8 83.7Q656.5 86.0 656.8 89.3" stroke-width="1.3"/><path d="M733.9 90.9Q739.1 88.3 743.7 84.8" stroke-width="1.3"/><path d="M699.1 108.7Q705.1 111.4 711.7 110.4" stroke-width="1.7"/><path d="M673.3 86.5Q673.2 90.0 671.4 93.0" stroke-width="2.2"/><path d="M706.6 57.7Q705.4 64.0 704.1 70.3" stroke-width="1.4"/><path d="M659.4 160.2Q658.0 165.7 654.7 170.4" stroke-width="1.2"/><path d="M702.4 94.4Q707.1 96.6 712.0 98.0" stroke-width="1.8"/><path d="M687.1 73.9Q685.3 79.1 684.2 84.4" stroke-width="0.9"/><path d="M716.5 90.0Q720.2 91.0 723.8 89.9" stroke-width="2.1"/><path d="M681.8 45.9Q679.3 50.5 674.4 52.5" stroke-width="1.0"/><path d="M697.0 133.5Q703.0 135.1 707.6 139.2" stroke-width="1.4"/><path d="M656.3 104.3Q654.5 107.5 654.7 111.2" stroke-width="1.5"/><path d="M629.1 122.4Q630.3 125.4 628.4 128.0" stroke-width="1.6"/><path d="M737.4 41.3Q739.6 45.8 740.8 50.7" stroke-width="1.1"/><path d="M724.1 84.6Q726.9 82.5 729.9 84.1" stroke-width="1.1"/><path d="M705.1 87.1Q709.7 87.9 712.7 91.5" stroke-width="1.0"/><path d="M674.6 77.3Q673.5 83.4 669.8 88.4" stroke-width="1.2"/><path d="M634.5 121.7Q633.0 125.1 632.9 128.9" stroke-width="1.8"/><path d="M653.2 33.5Q649.1 35.5 648.0 39.9" stroke-width="1.3"/><path d="M689.2 62.9Q685.5 67.0 683.2 72.0" stroke-width="1.0"/><path d="M717.6 161.1Q717.1 166.1 716.0 171.1" stroke-width="2.2"/><path d="M680.9 28.5Q676.2 30.3 674.1 35.0" stroke-width="1.5"/><path d="M746.2 102.8Q749.6 97.3 755.5 94.5" stroke-width="1.1"/><path d="M678.2 31.6Q675.9 34.3 673.0 36.4" stroke-width="1.2"/><path d="M643.3 97.2Q642.8 101.3 642.5 105.4" stroke-width="0.9"/><path d="M631.4 100.2Q631.8 106.3 633.0 112.4" stroke-width="2.0"/><path d="M724.5 158.2Q725.0 161.9 725.2 165.7" stroke-width="2.0"/><path d="M632.8 69.0Q632.3 72.0 633.9 74.6" stroke-width="1.9"/><path d="M655.4 34.4Q652.5 37.5 650.1 40.9" stroke-width="1.1"/><path d="M722.8 29.4Q721.8 32.7 719.3 35.0" stroke-width="1.3"/><path d="M721.6 130.1Q725.2 131.4 728.8 130.2" stroke-width="1.3"/><path d="M634.4 72.7Q633.8 78.9 636.6 84.4" stroke-width="1.7"/><path d="M726.6 35.0Q726.3 39.8 723.4 43.6" stroke-width="1.8"/><path d="M632.5 66.5Q633.9 72.5 634.9 78.6" stroke-width="1.4"/><path d="M698.0 166.1Q697.3 171.1 693.7 174.8" stroke-width="1.9"/><path d="M619.0 107.6Q619.6 112.2 622.9 115.5" stroke-width="1.3"/><path d="M660.1 51.2Q658.0 55.5 655.0 59.2" stroke-width="1.9"/><path d="M680.5 42.6Q676.2 46.5 671.8 50.4" stroke-width="0.9"/><path d="M632.6 126.8Q632.0 133.0 629.0 138.5" stroke-width="1.9"/><path d="M716.5 149.8Q717.3 154.9 720.3 159.1" stroke-width="1.3"/><path d="M690.1 111.1Q693.0 112.6 695.4 114.9" stroke-width="1.2"/><path d="M714.4 104.2Q717.5 101.7 721.4 102.4" stroke-width="0.9"/><path d="M698.6 136.0Q703.5 138.3 707.6 141.9" stroke-width="2.1"/><path d="M744.1 60.0Q750.4 61.0 756.8 61.7" stroke-width="1.4"/><path d="M677.9 37.8Q673.9 41.2 670.1 44.9" stroke-width="1.8"/><path d="M748.2 71.3Q751.8 70.8 755.2 69.3" stroke-width="2.2"/><path d="M739.9 98.4Q741.3 95.6 744.3 94.6" stroke-width="1.0"/><path d="M673.2 88.7Q671.2 93.6 671.1 98.9" stroke-width="0.9"/><path d="M663.1 70.3Q660.3 75.5 657.7 80.8" stroke-width="0.9"/><path d="M652.3 122.2Q652.6 125.1 651.1 127.7" stroke-width="0.9"/><path d="M760.0 107.9Q764.4 107.8 767.4 104.5" stroke-width="0.9"/><path d="M728.3 79.2Q730.9 78.2 733.5 79.1" stroke-width="1.4"/><path d="M696.0 30.7Q692.2 31.6 691.0 35.2" stroke-width="1.4"/><path d="M627.2 60.8Q628.1 67.1 630.4 73.0" stroke-width="1.5"/><path d="M682.0 62.2Q679.9 66.2 676.4 69.0" stroke-width="1.7"/><path d="M708.1 42.8Q704.6 44.4 703.6 48.1" stroke-width="2.1"/><path d="M638.9 96.3Q638.0 102.7 638.7 109.1" stroke-width="0.9"/><path d="M652.9 106.8Q652.0 110.3 651.4 113.8" stroke-width="1.8"/><path d="M705.5 142.1Q707.6 143.9 709.6 145.7" stroke-width="0.9"/><path d="M636.1 73.2Q636.4 77.7 637.3 82.1" stroke-width="1.1"/><path d="M655.2 59.0Q653.1 64.6 650.5 70.0" stroke-width="2.1"/><path d="M724.7 110.4Q726.1 107.6 729.2 108.0" stroke-width="2.0"/><path d="M708.0 38.7Q704.0 42.3 700.6 46.5" stroke-width="1.7"/><path d="M747.1 132.6Q749.7 133.7 752.5 133.7" stroke-width="2.0"/><path d="M714.7 48.4Q713.6 51.2 712.5 54.1" stroke-width="1.8"/><path d="M662.3 38.5Q660.5 41.5 657.8 43.9" stroke-width="2.0"/><path d="M704.1 121.3Q710.4 119.6 716.7 120.9" stroke-width="1.9"/><path d="M672.0 115.3Q674.5 120.2 675.2 125.6" stroke-width="1.4"/><path d="M717.6 86.7Q723.5 84.8 729.5 86.4" stroke-width="1.2"/><path d="M748.2 102.9Q750.2 100.7 752.7 99.0" stroke-width="1.1"/><path d="M690.2 36.9Q686.9 41.6 681.6 44.0" stroke-width="1.6"/><path d="M748.6 76.2Q753.9 74.0 759.0 71.5" stroke-width="1.0"/><path d="M641.4 127.0Q640.2 129.7 639.6 132.6" stroke-width="1.2"/><path d="M705.9 97.8Q711.7 100.0 717.8 98.8" stroke-width="1.2"/><path d="M653.3 144.5Q652.2 149.5 650.1 154.2" stroke-width="1.7"/><path d="M709.1 113.3Q714.5 112.2 719.9 111.1" stroke-width="1.4"/><path d="M623.6 58.4Q626.6 63.7 626.8 69.7" stroke-width="0.9"/><path d="M731.5 36.6Q731.2 41.0 730.4 45.2" stroke-width="1.9"/><path d="M624.6 73.4Q626.4 75.7 627.3 78.6" stroke-width="0.9"/><path d="M613.5 87.1Q615.9 90.0 619.4 91.5" stroke-width="1.3"/><path d="M719.1 53.5Q719.6 57.5 719.7 61.7" stroke-width="1.4"/><path d="M672.9 44.0Q671.7 48.0 667.8 49.2" stroke-width="1.0"/><path d="M700.6 163.2Q699.1 168.9 696.4 174.1" stroke-width="2.1"/><path d="M623.6 109.9Q624.9 115.3 625.9 120.7" stroke-width="1.9"/><path d="M749.5 117.8Q753.3 115.0 758.2 114.6" stroke-width="1.4"/><path d="M650.2 120.1Q650.5 125.2 647.7 129.5" stroke-width="1.8"/><path d="M664.8 147.9Q664.9 153.6 663.4 159.1" stroke-width="1.7"/><path d="M697.7 34.1Q692.8 36.1 690.0 40.7" stroke-width="1.7"/><path d="M690.8 91.7Q694.2 94.7 695.1 99.1" stroke-width="1.2"/><path d="M627.0 122.7Q627.5 126.2 626.3 129.6" stroke-width="0.9"/><path d="M752.9 69.6Q755.5 68.2 758.4 68.0" stroke-width="2.1"/><path d="M664.9 123.6Q663.7 128.0 665.5 132.2" stroke-width="0.9"/><path d="M739.3 112.9Q743.2 111.0 746.4 108.0" stroke-width="1.7"/><path d="M683.2 42.0Q679.0 43.6 676.7 47.5" stroke-width="1.2"/><path d="M703.3 113.4Q706.5 113.4 709.7 113.8" stroke-width="1.8"/><path d="M659.0 120.9Q658.9 123.5 658.4 126.1" stroke-width="1.0"/><path d="M723.9 133.3Q728.3 133.2 732.4 134.8" stroke-width="1.0"/><path d="M685.7 65.8Q683.1 67.2 682.7 70.1" stroke-width="1.7"/><path d="M687.4 109.2Q689.9 113.4 694.4 115.0" stroke-width="1.9"/><path d="M666.7 113.6Q665.1 116.9 667.0 119.9" stroke-width="0.9"/><path d="M730.8 61.4Q733.9 62.5 736.0 65.1" stroke-width="0.9"/><path d="M655.8 90.8Q656.6 94.1 654.2 96.5" stroke-width="1.1"/><path d="M754.9 101.5Q760.1 98.8 764.3 94.6" stroke-width="1.6"/><path d="M677.7 68.4Q673.7 71.8 672.1 76.8" stroke-width="1.9"/><path d="M704.7 56.9Q704.4 59.5 702.7 61.5" stroke-width="1.1"/><path d="M662.1 104.1Q660.7 108.9 660.6 113.8" stroke-width="1.2"/><path d="M648.7 35.2Q646.8 41.4 641.7 45.5" stroke-width="1.5"/><path d="M712.0 25.5Q710.4 28.7 707.5 30.7" stroke-width="2.1"/><path d="M684.5 101.0Q686.1 106.6 690.7 110.2" stroke-width="1.7"/><path d="M651.7 112.3Q652.3 117.5 649.5 122.0" stroke-width="1.9"/><path d="M664.4 97.3Q665.0 100.2 663.2 102.5" stroke-width="2.1"/><path d="M688.8 71.0Q688.0 74.5 686.2 77.6" stroke-width="0.8"/><path d="M638.0 66.6Q636.6 72.3 638.6 77.8" stroke-width="1.3"/><path d="M660.4 115.0Q661.5 119.5 659.6 123.7" stroke-width="1.5"/><path d="M741.0 74.2Q746.6 70.8 753.1 70.9" stroke-width="2.1"/><path d="M690.0 123.5Q694.5 126.1 699.1 128.5" stroke-width="1.3"/><path d="M680.4 22.8Q677.3 27.0 673.2 30.3" stroke-width="1.1"/><path d="M694.0 52.2Q690.0 56.5 685.9 60.7" stroke-width="0.9"/><path d="M648.2 57.5Q647.3 60.1 646.5 62.8" stroke-width="1.1"/><path d="M688.0 140.2Q688.3 143.7 691.6 145.0" stroke-width="2.0"/><path d="M720.4 27.7Q718.6 31.2 715.9 34.0" stroke-width="1.0"/><path d="M728.7 162.3Q727.3 164.9 728.8 167.5" stroke-width="0.9"/><path d="M722.2 136.2Q726.9 137.8 731.6 139.6" stroke-width="1.8"/><path d="M669.6 83.5Q667.2 86.5 667.0 90.2" stroke-width="1.5"/><path d="M620.9 91.2Q622.5 94.2 625.0 96.6" stroke-width="1.3"/><path d="M661.8 111.6Q661.4 116.1 661.0 120.6" stroke-width="1.8"/><path d="M731.2 131.5Q734.5 131.5 737.7 132.0" stroke-width="1.0"/><path d="M671.2 85.4Q668.1 89.9 668.1 95.4" stroke-width="1.8"/><path d="M638.6 146.7Q636.4 149.6 635.0 153.0" stroke-width="1.8"/><path d="M756.9 119.1Q763.0 120.1 768.5 117.2" stroke-width="1.5"/><path d="M691.3 134.4Q694.7 137.6 698.6 140.2" stroke-width="1.6"/><path d="M680.6 61.0Q677.5 65.3 673.8 69.0" stroke-width="0.9"/><path d="M668.7 123.0Q669.9 128.0 671.0 133.0" stroke-width="1.9"/><path d="M667.8 132.5Q669.0 137.6 669.5 142.8" stroke-width="2.0"/><path d="M751.7 76.5Q756.5 74.7 760.9 71.9" stroke-width="2.2"/><path d="M678.3 40.2Q675.6 45.0 670.6 47.2" stroke-width="2.0"/><path d="M650.5 110.3Q648.7 116.4 647.6 122.6" stroke-width="1.0"/><path d="M712.2 30.3Q710.9 32.5 708.9 34.1" stroke-width="1.2"/><path d="M730.1 114.2Q734.5 111.7 738.6 108.7" stroke-width="2.0"/><path d="M744.7 118.6Q750.4 117.1 755.6 114.0" stroke-width="1.3"/><path d="M690.1 52.0Q684.1 55.1 680.9 61.0" stroke-width="1.0"/><path d="M648.1 53.8Q646.9 58.3 645.1 62.6" stroke-width="2.1"/><path d="M670.0 144.0Q669.5 150.4 670.6 156.8" stroke-width="1.1"/><path d="M661.2 60.6Q661.0 64.0 658.0 65.8" stroke-width="1.4"/><path d="M750.8 99.7Q755.3 95.7 759.9 91.8" stroke-width="1.6"/><path d="M723.6 80.3Q729.6 81.0 735.7 80.1" stroke-width="1.4"/><path d="M657.6 83.8Q656.0 87.5 655.0 91.4" stroke-width="0.8"/><path d="M714.4 128.1Q719.3 130.0 724.2 127.9" stroke-width="1.9"/><path d="M691.1 160.3Q687.4 165.9 687.4 172.7" stroke-width="2.1"/><path d="M624.4 70.6Q626.7 76.0 629.5 81.1" stroke-width="1.2"/><path d="M655.3 41.6Q652.7 43.5 651.8 46.6" stroke-width="1.1"/><path d="M731.8 57.6Q734.7 59.6 737.0 62.3" stroke-width="1.4"/><path d="M751.3 117.4Q754.5 115.6 758.1 115.0" stroke-width="1.5"/><path d="M673.0 104.3Q675.0 108.8 674.4 113.7" stroke-width="1.6"/><path d="M646.3 85.6Q645.0 91.3 644.9 97.2" stroke-width="1.3"/><path d="M743.8 83.3Q747.9 81.1 751.7 78.5" stroke-width="1.7"/><path d="M654.4 160.6Q652.4 163.1 651.7 166.2" stroke-width="1.2"/><path d="M685.9 58.5Q682.4 59.6 681.5 63.2" stroke-width="0.9"/><path d="M723.6 80.5Q726.8 81.8 730.1 80.9" stroke-width="2.2"/><path d="M718.3 91.8Q723.6 92.7 728.3 90.1" stroke-width="1.5"/><path d="M722.7 162.2Q724.0 165.4 722.2 168.4" stroke-width="1.8"/><path d="M689.2 55.8Q684.6 59.1 681.7 64.0" stroke-width="1.8"/><path d="M671.5 138.2Q671.1 142.5 673.3 146.1" stroke-width="1.2"/><path d="M669.5 39.4Q663.9 42.5 661.3 48.3" stroke-width="1.4"/><path d="M654.2 66.6Q654.0 71.3 651.1 75.0" stroke-width="1.1"/><path d="M706.0 64.0Q704.9 70.3 707.4 76.2" stroke-width="1.7"/><path d="M664.4 85.4Q663.7 91.5 660.4 96.7" stroke-width="0.9"/><path d="M666.4 129.7Q666.4 134.1 667.5 138.2" stroke-width="1.5"/><path d="M681.7 26.7Q676.5 30.5 672.6 35.5" stroke-width="0.9"/><path d="M648.8 40.9Q645.1 45.1 643.5 50.6" stroke-width="1.2"/><path d="M738.9 101.7Q743.5 100.1 745.6 95.7" stroke-width="1.0"/><path d="M619.5 114.9Q620.3 121.3 622.1 127.6" stroke-width="1.5"/><path d="M721.5 132.4Q724.8 132.8 728.1 133.2" stroke-width="1.2"/><path d="M729.4 112.1Q732.3 107.8 737.4 106.8" stroke-width="1.2"/><path d="M708.1 29.2Q702.5 32.2 699.4 37.8" stroke-width="1.9"/><path d="M725.7 38.0Q725.0 42.6 723.0 46.9" stroke-width="1.5"/><path d="M624.9 87.3Q627.7 89.6 628.3 93.3" stroke-width="1.3"/><path d="M721.0 148.9Q723.0 151.5 724.3 154.4" stroke-width="2.1"/><path d="M689.9 142.8Q693.3 146.0 694.7 150.5" stroke-width="1.7"/><path d="M692.6 75.9Q691.7 80.2 692.3 84.5" stroke-width="1.5"/><path d="M704.0 61.2Q703.4 66.4 702.1 71.5" stroke-width="1.8"/><path d="M713.2 50.2Q711.8 54.4 710.4 58.6" stroke-width="0.8"/><path d="M646.7 44.9Q644.3 47.1 644.0 50.4" stroke-width="1.1"/><path d="M668.7 28.1Q667.0 32.6 662.6 34.4" stroke-width="1.7"/><path d="M713.1 52.0Q712.0 57.9 710.7 63.7" stroke-width="1.5"/><path d="M689.3 56.4Q684.3 59.5 681.7 64.9" stroke-width="0.8"/><path d="M679.9 49.6Q676.5 53.9 672.0 57.0" stroke-width="1.2"/><path d="M637.4 106.9Q637.5 113.4 636.2 119.8" stroke-width="1.0"/><path d="M676.4 142.4Q679.7 147.6 679.3 153.7" stroke-width="1.2"/><path d="M655.8 71.9Q654.1 75.9 652.7 80.0" stroke-width="2.2"/><path d="M628.1 75.8Q629.9 80.8 632.1 85.7" stroke-width="1.2"/><path d="M622.1 80.7Q625.6 85.3 628.4 90.4" stroke-width="1.5"/><path d="M718.9 87.7Q722.9 88.6 726.9 87.4" stroke-width="1.2"/><path d="M759.1 87.8Q760.9 85.6 763.5 84.5" stroke-width="1.3"/><path d="M641.2 66.8Q642.2 70.3 640.9 73.6" stroke-width="0.8"/><path d="M659.2 131.6Q659.8 136.1 658.3 140.5" stroke-width="1.5"/><path d="M646.3 99.9Q644.6 103.1 645.2 106.7" stroke-width="1.1"/><path d="M647.8 125.6Q647.6 130.2 645.2 134.0" stroke-width="1.0"/><path d="M715.1 143.5Q717.9 146.8 721.1 149.6" stroke-width="2.0"/><path d="M663.1 147.9Q661.5 151.3 662.2 155.1" stroke-width="1.4"/><path d="M756.3 95.7Q757.9 92.1 761.8 91.3" stroke-width="1.7"/><path d="M643.4 85.2Q643.7 90.6 642.7 95.9" stroke-width="1.6"/><path d="M704.3 27.0Q698.7 30.1 695.4 35.6" stroke-width="1.6"/><path d="M673.8 132.9Q674.8 137.6 677.3 141.8" stroke-width="1.4"/><path d="M632.0 109.8Q632.8 115.5 631.9 121.3" stroke-width="0.9"/><path d="M728.9 138.2Q731.7 138.6 733.9 140.4" stroke-width="2.1"/><path d="M734.7 95.0Q739.6 92.7 743.2 88.7" stroke-width="2.0"/><path d="M697.6 83.3Q701.1 87.8 704.2 92.6" stroke-width="1.0"/><path d="M725.8 122.7Q729.5 119.4 734.3 119.9" stroke-width="2.2"/><path d="M710.8 113.1Q716.3 112.0 721.7 110.4" stroke-width="1.6"/><path d="M645.3 91.5Q645.0 95.1 644.5 98.6" stroke-width="1.7"/><path d="M699.0 168.2Q698.6 171.4 696.2 173.7" stroke-width="1.1"/><path d="M713.4 129.6Q717.0 128.4 720.3 130.0" stroke-width="1.7"/><path d="M704.4 134.9Q706.5 136.8 709.2 137.0" stroke-width="2.2"/><path d="M681.1 107.6Q681.1 111.3 684.2 113.4" stroke-width="1.5"/><path d="M757.8 99.2Q763.5 97.0 767.7 92.4" stroke-width="2.1"/><path d="M642.3 73.9Q644.1 77.6 642.0 81.3" stroke-width="1.4"/><path d="M717.4 141.5Q720.3 142.8 722.4 145.1" stroke-width="1.7"/><path d="M755.7 79.1Q761.7 77.9 765.8 73.3" stroke-width="0.9"/><path d="M712.0 96.2Q715.0 96.3 718.1 96.3" stroke-width="1.5"/><path d="M695.8 101.2Q698.7 101.7 700.2 104.1" stroke-width="1.8"/><path d="M652.2 111.9Q650.9 116.1 650.2 120.4" stroke-width="0.9"/><path d="M654.2 137.2Q653.3 142.7 651.4 148.1" stroke-width="1.6"/><path d="M698.2 61.5Q694.9 64.2 695.0 68.5" stroke-width="2.0"/><path d="M679.6 117.1Q682.2 121.3 685.4 125.0" stroke-width="2.1"/><path d="M717.6 101.8Q720.8 102.0 723.2 100.1" stroke-width="1.9"/><path d="M694.3 144.4Q695.7 147.3 697.9 149.7" stroke-width="1.2"/><path d="M645.7 39.0Q645.6 42.6 642.4 44.3" stroke-width="2.2"/><path d="M725.3 89.7Q729.3 87.4 733.9 86.9" stroke-width="2.1"/><path d="M633.3 64.3Q632.6 69.7 634.9 74.7" stroke-width="2.2"/><path d="M738.1 115.0Q740.9 112.1 744.8 110.9" stroke-width="0.9"/><path d="M683.1 41.0Q681.0 43.7 678.0 45.3" stroke-width="1.0"/><path d="M741.0 134.0Q746.9 135.1 752.5 137.4" stroke-width="1.7"/><path d="M711.3 81.9Q716.4 83.6 721.1 86.1" stroke-width="1.1"/><path d="M742.4 135.9Q746.7 138.0 751.3 139.4" stroke-width="1.0"/><path d="M674.4 111.2Q674.3 115.7 677.0 119.3" stroke-width="1.8"/><path d="M744.7 126.3Q749.7 124.6 754.9 125.6" stroke-width="2.2"/><path d="M714.2 25.9Q711.7 28.8 709.4 31.7" stroke-width="1.5"/><path d="M677.0 24.2Q673.8 28.3 669.8 31.5" stroke-width="1.0"/><path d="M690.3 166.9Q688.5 170.4 686.8 174.0" stroke-width="0.8"/><path d="M687.0 106.6Q688.4 110.3 692.0 111.9" stroke-width="1.8"/><path d="M698.3 162.8Q697.6 168.1 694.8 172.8" stroke-width="1.0"/><path d="M629.9 78.8Q632.7 83.1 633.2 88.1" stroke-width="0.9"/><path d="M658.9 108.2Q659.2 113.0 657.3 117.4" stroke-width="1.6"/><path d="M731.1 56.7Q736.3 59.3 739.8 63.8" stroke-width="0.8"/><path d="M663.1 44.9Q660.7 51.3 655.4 55.4" stroke-width="1.0"/><path d="M653.9 149.1Q651.9 154.9 649.6 160.5" stroke-width="1.0"/><path d="M726.2 30.5Q723.2 34.6 721.7 39.4" stroke-width="0.8"/><path d="M653.6 85.0Q651.0 90.4 650.6 96.4" stroke-width="1.3"/><path d="M699.5 51.5Q695.8 53.2 694.8 57.1" stroke-width="1.2"/><path d="M717.1 162.1Q716.5 164.8 716.5 167.6" stroke-width="1.7"/><path d="M742.5 122.8Q747.8 120.7 753.4 119.9" stroke-width="1.2"/><path d="M643.5 143.8Q640.1 147.4 639.3 152.2" stroke-width="2.2"/><path d="M672.7 142.9Q675.3 146.8 674.3 151.4" stroke-width="1.8"/><path d="M681.2 165.4Q681.3 169.2 678.6 171.8" stroke-width="1.3"/><path d="M645.9 76.2Q646.2 80.9 644.8 85.3" stroke-width="0.9"/><path d="M690.6 116.4Q692.3 118.6 695.0 119.2" stroke-width="2.0"/><path d="M711.7 34.8Q707.7 39.6 703.2 44.0" stroke-width="1.4"/><path d="M614.3 96.0Q620.0 99.3 623.0 105.2" stroke-width="1.7"/><path d="M634.2 144.1Q634.2 147.3 631.5 149.0" stroke-width="2.0"/><path d="M709.6 60.6Q711.2 63.9 709.3 67.1" stroke-width="1.9"/><path d="M666.1 46.7Q663.5 50.7 660.1 54.1" stroke-width="1.5"/><path d="M699.0 60.9Q695.5 64.3 695.3 69.1" stroke-width="1.1"/><path d="M684.8 88.7Q684.8 92.6 685.8 96.4" stroke-width="2.1"/><path d="M723.5 61.1Q724.5 63.7 726.5 65.7" stroke-width="2.2"/><path d="M708.8 73.8Q709.3 77.6 712.6 79.6" stroke-width="1.1"/><path d="M702.1 98.4Q705.1 98.6 707.4 100.5" stroke-width="1.9"/><path d="M690.4 39.7Q687.0 40.0 686.1 43.3" stroke-width="1.4"/><path d="M694.6 158.4Q693.8 164.6 692.2 170.7" stroke-width="1.5"/><path d="M684.9 69.1Q683.5 75.3 679.3 80.1" stroke-width="1.9"/><path d="M746.2 63.6Q752.2 64.9 758.2 63.4" stroke-width="1.2"/><path d="M714.0 32.7Q711.5 36.9 707.8 40.0" stroke-width="1.7"/><path d="M717.4 60.7Q718.5 65.4 721.3 69.5" stroke-width="1.0"/><path d="M717.1 128.6Q723.1 126.5 729.2 128.1" stroke-width="1.3"/><path d="M745.8 102.5Q747.7 98.9 751.5 97.4" stroke-width="1.4"/><path d="M725.0 40.1Q722.9 45.8 722.5 51.9" stroke-width="1.1"/><path d="M684.5 58.4Q681.8 62.0 678.5 65.1" stroke-width="1.7"/><path d="M672.6 153.6Q670.3 157.9 671.7 162.6" stroke-width="1.3"/><path d="M686.5 56.3Q684.8 61.0 680.3 62.9" stroke-width="1.4"/><path d="M669.3 111.2Q670.1 116.6 670.8 122.0" stroke-width="1.4"/><path d="M704.1 134.8Q707.9 134.8 710.5 137.5" stroke-width="1.8"/><path d="M734.6 151.4Q737.6 156.0 739.0 161.4" stroke-width="1.6"/><path d="M670.3 120.3Q673.1 124.5 672.8 129.5" stroke-width="1.2"/><path d="M645.9 130.8Q643.1 135.4 642.2 140.7" stroke-width="1.4"/><path d="M659.8 110.3Q658.6 115.9 658.3 121.6" stroke-width="1.0"/><path d="M703.8 84.5Q706.1 86.0 707.5 88.3" stroke-width="1.6"/><path d="M724.0 32.0Q721.0 34.4 720.6 38.2" stroke-width="1.7"/><path d="M745.9 107.9Q750.1 103.4 755.3 100.4" stroke-width="1.7"/><path d="M633.6 133.0Q630.0 138.4 628.5 144.8" stroke-width="1.5"/><path d="M696.2 28.1Q693.2 31.3 689.9 34.1" stroke-width="1.7"/><path d="M676.4 147.6Q678.0 153.1 677.6 158.9" stroke-width="1.6"/><path d="M642.6 134.8Q640.8 138.4 639.4 142.3" stroke-width="1.8"/><path d="M698.0 29.9Q696.4 33.7 692.5 34.9" stroke-width="1.5"/><path d="M648.2 76.7Q646.0 78.8 647.2 81.7" stroke-width="2.0"/><path d="M694.3 66.0Q691.2 70.5 690.6 75.9" stroke-width="1.9"/><path d="M741.7 55.4Q746.3 59.4 752.2 59.7" stroke-width="0.9"/><path d="M724.2 93.1Q727.6 91.0 731.6 90.4" stroke-width="1.8"/><path d="M746.5 108.6Q750.6 106.5 753.7 103.1" stroke-width="1.7"/><path d="M730.1 74.3Q733.8 73.4 737.3 74.8" stroke-width="0.8"/><path d="M711.8 168.7Q710.5 171.1 709.6 173.7" stroke-width="2.2"/><path d="M653.9 41.2Q653.2 45.7 649.4 48.1" stroke-width="0.9"/><path d="M680.9 42.6Q677.9 46.5 673.7 49.0" stroke-width="1.1"/><path d="M682.2 46.4Q679.1 46.8 678.3 49.8" stroke-width="1.6"/><path d="M709.8 147.3Q710.1 151.0 713.4 152.8" stroke-width="1.0"/><path d="M683.5 165.4Q680.8 169.1 679.8 173.5" stroke-width="1.8"/><path d="M661.4 65.7Q656.9 70.1 655.9 76.4" stroke-width="1.8"/><path d="M718.9 155.6Q718.0 159.1 720.1 162.1" stroke-width="1.1"/><path d="M749.5 99.8Q752.9 95.4 757.7 92.6" stroke-width="0.8"/><path d="M703.1 140.7Q706.4 141.5 707.9 144.6" stroke-width="1.2"/><path d="M706.1 167.2Q704.2 170.8 702.6 174.5" stroke-width="1.1"/><path d="M668.9 146.9Q668.9 153.0 668.5 159.1" stroke-width="1.3"/><path d="M687.0 165.9Q684.6 168.4 684.4 171.9" stroke-width="1.2"/><path d="M678.4 165.1Q674.9 168.8 674.3 173.9" stroke-width="0.9"/><path d="M739.7 97.0Q742.6 95.9 744.1 93.2" stroke-width="0.8"/><path d="M722.9 135.1Q727.2 136.8 731.7 137.6" stroke-width="1.6"/><path d="M641.1 62.8Q641.0 67.6 640.5 72.4" stroke-width="1.4"/><path d="M680.2 155.0Q679.8 160.2 679.3 165.3" stroke-width="2.0"/><path d="M667.4 107.7Q669.0 114.1 668.0 120.5" stroke-width="1.2"/><path d="M639.8 93.8Q639.8 96.9 639.8 99.9" stroke-width="1.5"/><path d="M663.4 141.6Q663.2 145.0 663.2 148.4" stroke-width="2.2"/><path d="M676.8 123.5Q678.1 128.0 681.3 131.3" stroke-width="2.0"/><path d="M689.3 92.2Q690.9 96.3 693.4 99.8" stroke-width="1.1"/><path d="M666.8 35.9Q663.1 39.3 660.0 43.3" stroke-width="1.6"/><path d="M703.3 141.3Q706.3 145.1 710.3 147.8" stroke-width="1.3"/><path d="M656.1 134.2Q654.9 139.6 654.0 145.0" stroke-width="1.5"/><path d="M683.4 153.2Q684.4 155.7 684.0 158.4" stroke-width="1.8"/><path d="M708.2 98.3Q711.6 97.7 715.0 98.9" stroke-width="1.6"/><path d="M744.9 91.9Q748.7 86.8 754.4 83.9" stroke-width="1.3"/><path d="M677.3 30.6Q674.2 33.0 671.6 36.1" stroke-width="1.9"/><path d="M664.1 55.8Q661.7 60.4 658.3 64.3" stroke-width="0.8"/><path d="M747.5 134.5Q750.4 135.4 753.3 136.2" stroke-width="1.6"/><path d="M726.7 41.1Q724.6 47.5 725.9 54.1" stroke-width="1.8"/><path d="M644.6 37.7Q641.7 42.5 639.0 47.4" stroke-width="2.2"/><path d="M673.7 62.4Q669.3 66.4 666.5 71.7" stroke-width="1.8"/><path d="M650.7 75.0Q650.5 79.1 648.7 82.8" stroke-width="1.7"/><path d="M675.1 140.1Q675.4 143.0 676.9 145.5" stroke-width="1.5"/><path d="M684.4 48.7Q681.5 50.0 679.8 52.7" stroke-width="1.3"/><path d="M647.6 114.4Q645.9 119.4 645.0 124.7" stroke-width="0.8"/><path d="M682.3 47.8Q678.5 51.7 674.2 55.1" stroke-width="2.0"/><path d="M653.1 152.6Q652.7 155.3 651.2 157.7" stroke-width="1.3"/><path d="M709.7 64.3Q710.2 70.7 713.8 76.1" stroke-width="0.9"/><path d="M697.4 124.9Q703.8 124.5 709.3 127.7" stroke-width="1.0"/><path d="M718.7 78.2Q723.5 79.2 728.2 80.8" stroke-width="1.5"/><path d="M752.3 136.1Q754.7 137.5 757.4 138.1" stroke-width="2.1"/><path d="M671.5 68.3Q670.6 72.3 667.2 74.7" stroke-width="1.3"/><path d="M617.1 91.0Q620.1 96.1 624.7 99.8" stroke-width="1.6"/><path d="M686.0 88.5Q684.7 91.4 686.7 94.0" stroke-width="2.1"/><path d="M659.0 41.0Q655.6 42.1 655.4 45.7" stroke-width="1.5"/><path d="M663.4 97.1Q662.3 102.0 661.3 106.9" stroke-width="1.9"/><path d="M737.2 128.0Q742.0 126.1 747.0 127.4" stroke-width="1.2"/><path d="M718.3 127.3Q721.2 125.2 724.3 126.9" stroke-width="0.9"/><path d="M736.6 143.8Q738.0 147.2 741.6 148.1" stroke-width="0.9"/><path d="M693.3 129.4Q697.6 132.2 702.3 134.1" stroke-width="1.8"/><path d="M739.8 119.2Q743.7 117.1 747.9 115.6" stroke-width="0.9"/><path d="M758.4 103.5Q762.5 101.7 765.8 98.9" stroke-width="1.1"/><path d="M653.7 99.5Q651.5 103.7 651.6 108.3" stroke-width="1.9"/><path d="M760.7 111.2Q764.1 108.6 768.4 108.5" stroke-width="0.8"/><path d="M708.1 62.6Q708.0 65.6 707.8 68.6" stroke-width="1.0"/><path d="M687.8 130.9Q690.3 133.9 693.7 135.8" stroke-width="1.2"/><path d="M730.4 123.7Q735.5 123.1 740.2 120.6" stroke-width="1.5"/><path d="M718.5 159.6Q717.9 163.3 718.3 167.0" stroke-width="1.6"/><path d="M643.9 132.0Q641.9 137.2 639.7 142.3" stroke-width="2.0"/><path d="M736.6 70.4Q741.6 70.2 746.5 70.2" stroke-width="1.6"/><path d="M636.3 141.6Q634.8 145.6 632.2 149.1" stroke-width="1.6"/><path d="M675.4 23.5Q672.9 28.8 667.7 31.5" stroke-width="2.0"/><path d="M654.6 38.3Q649.8 41.9 648.2 47.7" stroke-width="1.0"/><path d="M688.3 107.8Q692.1 111.3 696.4 114.0" stroke-width="1.5"/><path d="M706.0 125.5Q709.0 124.7 711.9 126.0" stroke-width="1.1"/><path d="M662.0 156.0Q663.0 159.2 660.6 161.6" stroke-width="1.8"/><path d="M674.7 95.2Q673.7 100.1 674.7 104.9" stroke-width="2.1"/><path d="M684.5 79.5Q683.6 82.6 683.1 85.8" stroke-width="2.0"/><path d="M631.8 110.2Q630.6 115.3 631.8 120.3" stroke-width="2.0"/><path d="M759.4 100.2Q764.3 98.8 767.6 94.9" stroke-width="1.1"/><path d="M725.9 73.4Q729.4 73.8 732.7 75.2" stroke-width="1.4"/><path d="M646.9 122.5Q646.9 128.6 643.5 133.7" stroke-width="1.0"/><path d="M751.3 111.6Q756.4 110.5 760.0 106.8" stroke-width="1.0"/><path d="M668.7 119.8Q670.0 125.2 671.0 130.7" stroke-width="1.9"/><path d="M723.1 164.5Q723.8 167.6 722.2 170.3" stroke-width="1.7"/><path d="M685.7 29.1Q681.7 32.1 678.3 35.9" stroke-width="0.9"/><path d="M669.5 67.7Q666.7 71.3 664.5 75.2" stroke-width="1.3"/><path d="M674.8 33.8Q671.8 38.0 667.5 40.9" stroke-width="2.1"/><path d="M641.6 61.9Q639.6 67.5 640.7 73.3" stroke-width="1.9"/><path d="M711.0 29.3Q708.8 34.0 704.2 36.5" stroke-width="2.0"/><path d="M671.0 143.4Q673.2 148.0 672.2 153.0" stroke-width="0.8"/><path d="M620.2 92.5Q624.0 96.6 626.5 101.6" stroke-width="1.8"/><path d="M699.6 124.8Q704.3 125.1 708.8 126.7" stroke-width="0.9"/><path d="M742.1 84.6Q745.6 80.9 750.5 79.5" stroke-width="1.1"/><path d="M683.8 46.3Q679.4 47.6 677.4 51.8" stroke-width="1.3"/><path d="M676.0 112.8Q679.1 115.7 678.9 119.9" stroke-width="1.8"/><path d="M729.0 115.7Q734.3 113.9 738.4 110.0" stroke-width="2.0"/><path d="M629.3 67.1Q629.9 69.9 630.8 72.6" stroke-width="1.0"/><path d="M630.0 119.8Q627.9 125.2 628.4 131.0" stroke-width="1.7"/><path d="M613.9 108.5Q616.8 112.1 619.2 115.9" stroke-width="1.3"/><path d="M693.6 148.8Q697.1 153.6 696.8 159.6" stroke-width="1.6"/><path d="M746.8 144.0Q750.5 145.9 753.0 149.3" stroke-width="0.8"/><path d="M643.1 136.9Q641.2 141.0 639.4 145.2" stroke-width="0.9"/><path d="M678.2 98.1Q678.9 100.8 678.9 103.5" stroke-width="1.7"/><path d="M715.8 156.0Q713.9 162.4 715.7 168.8" stroke-width="1.2"/><path d="M642.5 151.5Q642.3 154.4 640.0 156.1" stroke-width="1.3"/><path d="M719.5 163.1Q720.6 165.9 718.8 168.4" stroke-width="1.1"/><path d="M671.1 25.1Q669.7 28.2 666.6 29.7" stroke-width="1.6"/><path d="M716.6 77.5Q722.3 78.3 727.3 81.3" stroke-width="2.1"/><path d="M640.4 146.8Q638.4 149.2 637.4 152.2" stroke-width="1.2"/><path d="M659.5 39.9Q655.5 42.6 653.9 47.2" stroke-width="1.3"/><path d="M713.0 83.0Q718.5 86.1 724.8 86.1" stroke-width="1.4"/><path d="M688.9 34.6Q686.1 39.3 681.1 41.2" stroke-width="1.4"/><path d="M753.2 136.0Q755.9 137.2 758.8 138.2" stroke-width="1.7"/><path d="M664.3 29.4Q660.2 32.7 657.2 36.9" stroke-width="1.8"/><path d="M662.9 159.7Q660.9 165.2 658.5 170.5" stroke-width="1.1"/><path d="M694.2 131.4Q696.8 132.6 699.1 134.3" stroke-width="1.3"/><path d="M700.6 90.1Q705.7 92.0 709.5 95.8" stroke-width="1.8"/><path d="M692.9 119.6Q696.1 120.8 699.2 122.4" stroke-width="1.4"/><path d="M749.2 71.6Q752.8 68.6 757.4 69.1" stroke-width="1.3"/><path d="M677.4 46.3Q675.1 49.2 672.0 51.2" stroke-width="1.4"/><path d="M672.3 143.7Q672.3 147.0 673.4 150.2" stroke-width="1.7"/><path d="M643.8 105.1Q644.8 110.7 642.0 115.7" stroke-width="1.7"/><path d="M690.7 96.2Q694.7 99.9 698.1 104.2" stroke-width="1.9"/><path d="M668.2 37.2Q664.0 40.5 661.1 44.9" stroke-width="1.0"/><path d="M666.3 42.4Q662.0 46.4 658.9 51.4" stroke-width="1.0"/><path d="M755.6 94.5Q758.2 90.3 762.8 88.6" stroke-width="2.2"/><path d="M733.6 104.2Q738.6 101.1 742.6 96.7" stroke-width="1.3"/><path d="M642.7 136.5Q642.0 139.6 640.2 142.3" stroke-width="1.9"/><path d="M723.2 101.1Q727.6 100.2 731.0 97.1" stroke-width="0.9"/><path d="M665.2 103.8Q664.9 108.8 664.2 113.7" stroke-width="1.2"/><path d="M668.2 83.0Q666.0 85.5 665.8 88.9" stroke-width="1.1"/><path d="M668.2 122.4Q668.1 127.5 670.1 132.1" stroke-width="1.7"/><path d="M735.4 79.3Q738.9 76.9 743.2 77.1" stroke-width="1.8"/><path d="M749.9 110.9Q753.8 108.7 757.4 106.1" stroke-width="1.8"/><path d="M712.3 140.8Q714.3 144.6 718.5 145.3" stroke-width="1.2"/><path d="M711.3 110.6Q713.6 108.5 716.4 109.7" stroke-width="1.0"/><path d="M708.7 109.8Q712.0 108.1 715.7 109.0" stroke-width="2.1"/><path d="M661.8 89.2Q658.9 93.2 659.0 98.1" stroke-width="1.5"/><path d="M617.6 97.2Q620.0 102.5 624.3 106.3" stroke-width="1.9"/><path d="M645.8 50.5Q643.9 54.3 643.1 58.5" stroke-width="1.2"/><path d="M677.2 45.9Q674.7 47.3 673.1 49.6" stroke-width="1.3"/><path d="M690.0 28.6Q687.3 32.4 683.3 34.7" stroke-width="1.5"/><path d="M706.3 144.3Q710.9 147.1 712.5 152.2" stroke-width="2.2"/><path d="M688.8 162.9Q687.3 167.9 685.1 172.8" stroke-width="2.0"/><path d="M701.0 163.9Q698.6 168.6 697.1 173.8" stroke-width="1.7"/><path d="M741.8 56.8Q747.4 59.6 753.5 60.7" stroke-width="1.3"/><path d="M728.4 127.1Q734.1 125.0 740.0 125.3" stroke-width="1.0"/><path d="M689.6 135.7Q693.5 137.3 695.3 141.2" stroke-width="1.5"/></g><g fill="none" stroke="#dcae8e" stroke-opacity="0.4" stroke-linecap="round" filter="url(#soft)"><path d="M704.2 134.1Q708.8 137.9 714.7 138.4" stroke-width="1.8"/><path d="M693.9 125.3Q696.2 128.3 699.9 128.0" stroke-width="1.8"/><path d="M727.1 149.6Q727.5 152.3 729.8 153.9" stroke-width="1.3"/><path d="M692.7 139.2Q694.0 142.0 696.8 143.4" stroke-width="1.9"/><path d="M627.9 71.5Q628.1 76.7 631.4 80.7" stroke-width="1.3"/><path d="M760.3 106.8Q763.5 104.1 767.7 103.2" stroke-width="1.6"/><path d="M739.7 39.6Q740.1 45.3 743.8 49.6" stroke-width="1.7"/><path d="M679.6 44.3Q675.3 45.5 673.6 49.6" stroke-width="2.1"/><path d="M691.6 73.0Q691.8 76.0 690.2 78.5" stroke-width="1.9"/><path d="M669.3 137.4Q669.4 143.0 671.1 148.4" stroke-width="1.7"/><path d="M669.6 127.2Q670.6 130.7 671.4 134.2" stroke-width="1.9"/><path d="M662.2 162.2Q659.8 166.7 657.9 171.5" stroke-width="0.8"/><path d="M654.5 121.5Q652.4 125.5 652.8 130.0" stroke-width="1.7"/><path d="M667.5 116.2Q666.9 121.8 668.9 127.0" stroke-width="1.3"/><path d="M740.1 128.3Q746.5 130.1 752.9 128.2" stroke-width="1.5"/><path d="M643.9 145.0Q641.0 150.5 638.0 156.0" stroke-width="1.8"/><path d="M686.7 77.2Q685.4 82.0 684.9 86.9" stroke-width="1.1"/><path d="M711.2 35.8Q708.5 39.7 704.9 42.7" stroke-width="1.6"/><path d="M631.8 104.9Q633.6 109.8 632.6 114.8" stroke-width="1.7"/><path d="M760.5 100.7Q763.6 98.7 766.7 96.8" stroke-width="1.0"/><path d="M685.7 64.3Q681.4 68.2 679.3 73.6" stroke-width="0.8"/><path d="M725.8 68.2Q730.3 69.5 734.3 72.0" stroke-width="1.2"/><path d="M685.2 156.5Q684.2 162.5 683.5 168.5" stroke-width="0.8"/><path d="M678.0 106.5Q679.7 111.6 682.3 116.2" stroke-width="1.5"/><path d="M676.0 78.3Q674.9 84.2 671.6 89.3" stroke-width="1.2"/><path d="M685.1 103.8Q688.3 107.0 690.5 111.0" stroke-width="1.0"/><path d="M652.3 142.6Q649.9 147.7 648.7 153.3" stroke-width="0.8"/><path d="M724.3 27.4Q722.1 32.9 718.1 37.3" stroke-width="1.7"/><path d="M723.8 41.6Q721.3 44.8 721.9 48.7" stroke-width="1.0"/><path d="M700.1 96.3Q706.2 98.0 711.9 100.5" stroke-width="0.9"/><path d="M639.6 115.3Q637.1 119.4 637.8 124.1" stroke-width="1.6"/><path d="M652.6 75.4Q652.4 81.0 649.7 85.9" stroke-width="1.8"/><path d="M744.8 99.6Q748.3 97.9 750.3 94.5" stroke-width="0.8"/><path d="M755.4 127.0Q758.9 125.6 762.2 127.4" stroke-width="2.2"/><path d="M706.2 73.7Q709.3 76.6 710.0 80.9" stroke-width="2.0"/><path d="M731.7 93.1Q736.7 90.1 741.7 86.9" stroke-width="1.6"/><path d="M745.3 100.9Q748.0 95.7 753.5 93.4" stroke-width="1.5"/><path d="M640.4 64.6Q640.3 68.1 640.1 71.5" stroke-width="0.8"/><path d="M673.0 160.7Q670.7 165.5 669.7 170.7" stroke-width="1.5"/><path d="M615.9 102.5Q618.4 106.1 621.4 109.4" stroke-width="1.3"/><path d="M682.1 67.4Q678.9 72.0 676.1 76.7" stroke-width="2.1"/><path d="M726.3 113.4Q730.6 112.3 733.6 109.0" stroke-width="1.7"/><path d="M656.0 122.8Q657.1 126.7 654.8 130.0" stroke-width="1.9"/><path d="M681.8 75.8Q682.1 80.1 678.9 82.9" stroke-width="1.6"/><path d="M672.9 57.3Q667.7 61.4 664.7 67.2" stroke-width="2.0"/><path d="M664.7 78.4Q662.1 82.1 661.0 86.4" stroke-width="1.4"/><path d="M715.3 126.0Q720.0 126.7 724.5 125.0" stroke-width="1.3"/><path d="M725.9 30.9Q722.8 35.5 720.9 40.7" stroke-width="2.1"/><path d="M716.2 146.2Q718.8 151.0 722.1 155.3" stroke-width="1.1"/><path d="M678.2 48.2Q673.4 50.6 670.8 55.2" stroke-width="2.1"/><path d="M745.5 55.6Q749.3 56.0 752.5 58.2" stroke-width="1.7"/><path d="M642.4 114.5Q642.2 120.2 639.9 125.3" stroke-width="0.9"/><path d="M738.2 151.9Q740.8 156.6 742.8 161.7" stroke-width="1.4"/><path d="M697.3 114.6Q700.7 114.3 703.5 116.4" stroke-width="1.6"/><path d="M716.9 133.8Q719.5 134.3 722.2 134.9" stroke-width="2.0"/><path d="M664.4 147.5Q662.1 152.4 663.2 157.6" stroke-width="1.1"/><path d="M639.3 114.5Q637.8 117.2 638.3 120.2" stroke-width="1.8"/><path d="M730.4 131.4Q736.4 133.8 742.7 132.5" stroke-width="1.7"/><path d="M696.9 78.4Q697.1 81.4 698.1 84.2" stroke-width="1.3"/><path d="M692.9 163.7Q691.9 170.1 687.8 175.1" stroke-width="1.9"/><path d="M663.2 39.1Q660.8 42.9 657.6 45.9" stroke-width="1.8"/><path d="M676.0 65.0Q672.7 68.1 670.6 72.2" stroke-width="1.9"/><path d="M673.6 137.7Q674.6 141.9 676.2 145.8" stroke-width="2.1"/><path d="M713.1 28.4Q710.6 29.7 709.7 32.4" stroke-width="1.4"/><path d="M728.7 155.8Q728.3 159.1 730.2 161.8" stroke-width="1.4"/><path d="M641.4 90.9Q641.9 93.7 641.3 96.4" stroke-width="2.1"/><path d="M644.0 85.8Q642.7 89.3 643.5 92.9" stroke-width="1.3"/><path d="M709.5 78.7Q712.6 81.2 715.6 83.8" stroke-width="1.6"/><path d="M686.3 129.2Q687.4 131.7 690.0 132.6" stroke-width="1.4"/><path d="M670.5 25.6Q668.0 28.4 665.3 30.8" stroke-width="1.7"/><path d="M671.6 99.2Q669.8 104.5 671.6 109.9" stroke-width="2.1"/><path d="M665.1 45.1Q662.6 51.0 657.4 54.9" stroke-width="1.4"/><path d="M694.1 77.2Q696.1 83.2 696.5 89.4" stroke-width="1.6"/><path d="M671.7 41.9Q668.0 47.2 662.9 51.2" stroke-width="1.2"/><path d="M723.3 60.0Q726.8 64.7 731.1 68.6" stroke-width="1.3"/><path d="M625.9 124.8Q627.3 127.8 625.3 130.5" stroke-width="1.4"/><path d="M726.5 61.2Q730.6 62.4 731.8 66.4" stroke-width="1.9"/><path d="M749.0 96.9Q750.5 94.0 753.6 92.7" stroke-width="1.2"/><path d="M649.1 35.1Q648.1 39.2 644.4 41.4" stroke-width="1.4"/><path d="M702.1 158.7Q702.9 161.9 701.9 164.9" stroke-width="1.5"/><path d="M746.8 111.2Q750.8 108.0 755.3 105.4" stroke-width="1.9"/><path d="M631.9 113.9Q631.1 119.8 631.0 125.7" stroke-width="0.9"/><path d="M701.3 65.6Q700.7 68.5 700.2 71.4" stroke-width="2.1"/><path d="M760.2 108.2Q763.7 105.6 768.0 104.7" stroke-width="1.6"/><path d="M683.5 53.2Q679.0 55.2 676.9 59.5" stroke-width="1.3"/><path d="M753.6 97.7Q757.9 96.2 760.1 92.1" stroke-width="1.6"/><path d="M659.0 133.1Q658.7 136.6 658.3 140.1" stroke-width="1.9"/><path d="M636.9 50.2Q635.2 55.3 635.3 60.6" stroke-width="0.9"/><path d="M636.8 47.4Q636.2 50.2 635.2 52.9" stroke-width="1.7"/><path d="M624.5 130.2Q622.8 132.9 623.3 136.0" stroke-width="1.3"/><path d="M680.3 80.9Q680.5 87.5 677.7 93.5" stroke-width="1.7"/><path d="M752.1 74.2Q757.8 72.5 763.0 69.6" stroke-width="1.4"/><path d="M713.3 72.4Q717.4 76.0 721.5 79.5" stroke-width="1.8"/><path d="M733.9 44.7Q737.3 48.2 736.9 53.1" stroke-width="1.9"/><path d="M694.3 94.6Q697.2 96.0 698.3 99.0" stroke-width="2.2"/><path d="M721.4 80.5Q726.2 81.9 731.2 81.3" stroke-width="1.4"/><path d="M698.3 24.7Q693.5 28.0 690.2 32.7" stroke-width="1.7"/><path d="M702.4 130.8Q708.0 132.9 713.8 134.0" stroke-width="0.8"/><path d="M681.5 135.7Q683.1 140.9 687.2 144.6" stroke-width="1.8"/><path d="M730.3 89.6Q735.2 88.0 739.6 85.2" stroke-width="2.0"/><path d="M685.3 51.0Q683.2 54.4 679.7 56.2" stroke-width="1.8"/><path d="M645.7 99.2Q645.3 105.1 643.9 110.8" stroke-width="0.9"/><path d="M736.3 57.5Q738.7 60.5 742.5 61.4" stroke-width="0.9"/><path d="M670.8 52.4Q667.5 56.5 663.9 60.3" stroke-width="0.9"/><path d="M661.7 59.6Q658.8 64.6 655.9 69.7" stroke-width="1.3"/><path d="M634.7 132.7Q633.9 139.0 629.9 143.9" stroke-width="0.9"/><path d="M714.4 103.2Q720.4 102.8 725.7 99.8" stroke-width="1.7"/><path d="M642.9 92.4Q642.1 96.1 642.4 99.9" stroke-width="1.0"/><path d="M670.3 136.4Q669.8 142.9 672.9 148.7" stroke-width="1.3"/><path d="M753.0 87.5Q756.1 85.7 758.5 83.1" stroke-width="1.4"/><path d="M657.6 101.3Q658.1 104.2 656.4 106.5" stroke-width="2.2"/><path d="M649.7 90.8Q650.6 93.7 648.6 96.0" stroke-width="1.1"/><path d="M664.4 59.9Q664.0 63.1 661.2 64.4" stroke-width="2.2"/><path d="M721.6 99.6Q723.7 97.9 726.3 97.7" stroke-width="2.0"/><path d="M719.4 133.5Q725.4 134.9 731.4 136.0" stroke-width="1.3"/><path d="M712.1 113.5Q715.9 113.6 719.2 111.8" stroke-width="1.1"/><path d="M634.0 108.5Q632.9 113.8 633.7 119.1" stroke-width="1.5"/><path d="M707.6 128.3Q710.5 127.4 713.2 129.0" stroke-width="1.5"/><path d="M631.6 132.6Q630.4 136.3 628.9 139.9" stroke-width="1.5"/><path d="M683.2 111.4Q687.6 114.2 690.0 118.9" stroke-width="1.4"/><path d="M640.0 78.9Q641.9 85.0 640.4 91.2" stroke-width="1.3"/><path d="M655.8 92.7Q656.0 97.4 653.5 101.3" stroke-width="1.7"/><path d="M688.6 122.2Q691.4 125.0 695.0 126.4" stroke-width="1.3"/><path d="M702.0 124.9Q708.0 126.3 714.3 126.1" stroke-width="1.8"/><path d="M686.6 99.2Q689.0 104.2 693.0 107.9" stroke-width="1.5"/><path d="M679.5 104.2Q683.1 109.6 685.4 115.7" stroke-width="1.8"/><path d="M630.8 136.9Q628.5 141.5 626.5 146.2" stroke-width="1.9"/><path d="M637.8 93.0Q637.2 98.0 638.2 102.9" stroke-width="2.1"/><path d="M680.9 155.8Q678.9 161.9 679.0 168.2" stroke-width="1.3"/><path d="M691.2 122.9Q695.1 126.4 700.3 127.3" stroke-width="1.8"/><path d="M687.5 94.6Q689.8 99.1 692.6 103.5" stroke-width="0.9"/><path d="M661.2 143.3Q660.1 146.7 660.4 150.2" stroke-width="1.6"/><path d="M638.9 140.2Q637.8 142.9 636.3 145.4" stroke-width="1.9"/><path d="M724.8 144.9Q727.1 146.1 728.4 148.4" stroke-width="1.5"/><path d="M760.7 109.6Q763.5 106.6 767.5 106.7" stroke-width="1.4"/><path d="M687.1 66.1Q684.1 71.6 680.9 77.0" stroke-width="1.2"/><path d="M653.4 85.6Q653.7 88.7 651.9 91.2" stroke-width="2.2"/><path d="M746.4 113.6Q750.0 112.5 752.7 109.9" stroke-width="0.9"/><path d="M753.8 124.8Q756.5 124.4 759.2 124.5" stroke-width="2.0"/><path d="M742.6 70.8Q748.8 68.9 755.2 68.3" stroke-width="2.1"/><path d="M753.5 133.3Q756.4 133.2 758.9 134.8" stroke-width="1.7"/><path d="M693.3 77.4Q693.8 80.9 693.5 84.5" stroke-width="2.1"/><path d="M646.0 55.1Q646.9 58.5 644.3 60.7" stroke-width="2.1"/><path d="M753.7 94.4Q759.1 92.1 762.4 87.2" stroke-width="1.7"/><path d="M716.4 72.0Q720.3 72.9 721.8 76.6" stroke-width="0.8"/><path d="M699.5 120.9Q702.8 123.1 706.7 122.3" stroke-width="1.7"/><path d="M658.3 68.7Q655.2 74.3 653.3 80.5" stroke-width="1.5"/><path d="M713.9 61.6Q715.9 64.0 714.8 67.1" stroke-width="1.6"/><path d="M687.8 75.3Q686.4 80.7 685.6 86.2" stroke-width="1.0"/><path d="M637.0 131.0Q637.0 135.2 634.2 138.3" stroke-width="1.9"/><path d="M727.6 83.6Q730.8 84.1 733.6 82.6" stroke-width="1.1"/><path d="M719.2 63.8Q720.2 66.2 721.7 68.2" stroke-width="1.9"/><path d="M721.0 91.4Q725.5 89.5 730.4 89.2" stroke-width="1.1"/><path d="M707.1 156.5Q707.1 161.4 707.1 166.4" stroke-width="1.7"/><path d="M694.6 148.0Q697.6 153.4 698.3 159.5" stroke-width="1.9"/><path d="M688.0 135.4Q691.5 137.5 693.5 141.0" stroke-width="1.3"/><path d="M744.9 127.2Q748.5 128.0 752.0 126.9" stroke-width="2.1"/><path d="M625.6 103.9Q627.7 108.8 628.4 114.0" stroke-width="1.6"/><path d="M726.3 131.2Q730.8 130.6 735.1 131.8" stroke-width="1.3"/><path d="M721.1 82.9Q725.4 83.8 729.9 83.2" stroke-width="1.2"/><path d="M749.6 64.6Q753.3 62.7 757.3 64.0" stroke-width="1.2"/><path d="M641.6 58.6Q642.4 62.6 640.5 66.2" stroke-width="1.8"/><path d="M697.2 58.5Q695.2 63.8 691.5 68.1" stroke-width="2.0"/><path d="M691.6 161.4Q690.0 165.8 689.1 170.5" stroke-width="1.2"/><path d="M712.5 39.9Q708.5 44.2 705.4 49.2" stroke-width="2.0"/><path d="M722.9 61.9Q726.0 64.8 728.3 68.3" stroke-width="1.3"/><path d="M679.4 140.3Q682.9 144.2 683.4 149.5" stroke-width="1.1"/><path d="M678.5 31.2Q673.8 33.7 671.1 38.3" stroke-width="2.1"/><path d="M706.9 108.1Q710.5 107.8 714.2 107.8" stroke-width="1.4"/><path d="M715.6 83.7Q722.0 84.9 728.5 85.2" stroke-width="2.1"/><path d="M634.9 86.0Q637.1 91.0 636.6 96.5" stroke-width="0.9"/><path d="M751.8 123.0Q754.7 123.4 757.3 122.2" stroke-width="2.2"/><path d="M689.6 80.0Q690.3 84.3 689.7 88.7" stroke-width="1.5"/><path d="M735.1 40.2Q735.0 45.6 737.3 50.3" stroke-width="1.3"/><path d="M706.7 79.0Q709.6 82.2 712.9 85.2" stroke-width="2.0"/><path d="M743.6 61.7Q749.3 61.9 754.9 62.9" stroke-width="1.1"/><path d="M705.3 53.4Q702.6 58.8 699.9 64.3" stroke-width="1.7"/><path d="M665.6 101.9Q665.9 106.7 664.5 111.2" stroke-width="1.5"/><path d="M718.3 60.1Q720.2 65.0 722.9 69.5" stroke-width="1.3"/><path d="M724.0 74.9Q730.0 75.5 735.9 76.7" stroke-width="1.8"/><path d="M717.8 136.5Q721.9 136.6 725.0 139.3" stroke-width="1.3"/><path d="M729.0 104.4Q734.1 102.0 737.9 97.9" stroke-width="1.0"/><path d="M722.7 66.6Q725.0 70.7 729.6 71.7" stroke-width="1.0"/><path d="M654.8 51.0Q654.0 55.3 650.8 58.5" stroke-width="2.1"/><path d="M739.6 116.2Q745.5 115.1 749.3 110.5" stroke-width="1.9"/><path d="M725.8 106.6Q728.3 104.2 731.6 103.1" stroke-width="2.1"/><path d="M706.2 117.5Q710.7 118.8 715.0 116.9" stroke-width="2.0"/><path d="M735.7 146.9Q739.7 148.9 740.8 153.3" stroke-width="1.0"/><path d="M717.8 76.4Q722.9 77.0 727.0 80.0" stroke-width="1.7"/><path d="M754.9 127.1Q759.5 128.3 764.3 127.9" stroke-width="2.0"/><path d="M681.8 77.7Q678.3 83.4 678.3 90.0" stroke-width="1.0"/><path d="M709.2 72.4Q713.1 76.0 715.6 80.7" stroke-width="1.8"/><path d="M682.2 40.3Q678.9 43.1 675.8 45.8" stroke-width="0.9"/><path d="M633.5 56.1Q634.3 62.0 633.9 68.0" stroke-width="1.7"/><path d="M710.9 50.5Q709.9 54.9 707.5 58.7" stroke-width="1.5"/><path d="M648.6 79.0Q649.7 83.7 647.0 87.7" stroke-width="1.3"/><path d="M681.8 135.0Q683.9 140.6 688.3 144.5" stroke-width="1.9"/><path d="M648.9 55.7Q646.6 60.1 645.9 65.0" stroke-width="0.9"/><path d="M691.7 105.7Q694.8 109.1 699.3 110.6" stroke-width="2.0"/><path d="M724.8 145.6Q727.4 150.5 731.3 154.3" stroke-width="1.3"/><path d="M736.5 99.6Q741.6 97.1 744.8 92.5" stroke-width="1.5"/><path d="M689.7 34.2Q686.9 37.5 683.2 39.7" stroke-width="1.1"/><path d="M703.6 160.0Q703.7 163.3 702.9 166.5" stroke-width="1.7"/><path d="M683.2 50.2Q680.0 52.7 677.2 55.6" stroke-width="2.2"/><path d="M740.0 146.8Q742.7 150.1 745.4 153.3" stroke-width="2.0"/><path d="M712.9 123.1Q719.1 122.3 725.2 120.8" stroke-width="1.5"/><path d="M659.9 102.2Q657.6 105.5 658.4 109.4" stroke-width="2.1"/><path d="M709.7 134.8Q712.5 135.1 714.9 136.6" stroke-width="2.0"/><path d="M679.8 42.1Q676.8 44.3 674.3 46.9" stroke-width="2.1"/><path d="M694.1 41.2Q688.7 43.6 685.4 48.5" stroke-width="2.0"/><path d="M638.2 130.0Q636.2 132.2 636.3 135.2" stroke-width="1.2"/><path d="M639.7 102.3Q638.6 106.9 639.0 111.6" stroke-width="1.3"/><path d="M624.8 65.5Q627.5 69.5 628.2 74.2" stroke-width="1.0"/><path d="M665.0 54.1Q661.5 56.6 660.1 60.7" stroke-width="1.8"/><path d="M698.0 70.7Q699.6 75.3 697.7 79.7" stroke-width="1.8"/><path d="M710.4 143.1Q712.9 145.8 715.7 148.2" stroke-width="1.0"/><path d="M697.5 47.0Q692.5 51.1 688.2 55.9" stroke-width="1.1"/><path d="M703.9 118.6Q709.9 117.6 715.9 118.1" stroke-width="1.2"/><path d="M702.7 156.5Q701.0 162.1 702.1 167.8" stroke-width="1.6"/><path d="M668.3 74.8Q666.4 80.6 662.8 85.6" stroke-width="1.7"/><path d="M621.8 104.6Q622.4 110.5 625.9 115.2" stroke-width="1.4"/><path d="M645.7 132.4Q644.5 138.4 641.3 143.6" stroke-width="1.6"/><path d="M670.8 26.8Q667.3 27.8 666.4 31.2" stroke-width="1.2"/><path d="M724.3 48.3Q725.5 52.1 724.6 56.0" stroke-width="1.1"/><path d="M662.8 132.8Q661.1 135.5 662.8 138.2" stroke-width="1.5"/><path d="M725.4 157.9Q725.4 163.5 725.7 169.2" stroke-width="1.4"/><path d="M691.7 153.0Q692.0 159.0 692.3 165.0" stroke-width="1.0"/><path d="M635.5 70.5Q636.2 75.2 636.9 79.9" stroke-width="1.7"/><path d="M752.4 74.0Q758.0 70.9 764.1 69.1" stroke-width="1.3"/><path d="M757.5 104.0Q763.1 102.2 767.2 98.1" stroke-width="1.2"/><path d="M658.7 137.3Q657.0 143.4 656.8 149.7" stroke-width="1.3"/><path d="M732.8 38.2Q732.1 41.0 732.4 43.9" stroke-width="0.9"/><path d="M738.2 113.7Q741.8 113.1 743.8 110.0" stroke-width="1.0"/><path d="M701.6 68.5Q703.3 74.3 702.9 80.4" stroke-width="0.9"/><path d="M655.3 90.4Q653.4 92.7 653.8 95.5" stroke-width="2.2"/><path d="M696.9 25.9Q693.4 31.4 687.7 34.6" stroke-width="1.6"/><path d="M717.4 129.8Q723.7 131.4 730.0 130.0" stroke-width="1.2"/><path d="M749.3 90.6Q752.2 85.8 757.4 83.7" stroke-width="2.1"/><path d="M748.0 135.0Q750.9 136.4 754.0 137.0" stroke-width="1.6"/><path d="M622.4 85.6Q623.3 88.8 626.0 90.7" stroke-width="0.9"/><path d="M702.1 121.1Q708.3 122.8 714.6 121.5" stroke-width="1.8"/><path d="M682.7 148.0Q682.8 152.1 684.6 155.8" stroke-width="1.9"/><path d="M742.3 63.6Q745.2 63.2 747.9 64.4" stroke-width="1.5"/><path d="M704.4 167.6Q703.5 170.7 701.7 173.5" stroke-width="1.6"/><path d="M715.1 119.3Q718.2 116.8 722.2 117.5" stroke-width="1.2"/><path d="M698.7 109.1Q702.5 111.9 707.1 111.1" stroke-width="2.2"/><path d="M637.2 99.2Q638.5 104.5 637.3 109.8" stroke-width="2.0"/><path d="M677.4 113.5Q678.0 118.5 681.8 121.7" stroke-width="2.0"/><path d="M748.4 66.1Q754.7 64.1 761.3 64.3" stroke-width="1.3"/><path d="M703.3 54.6Q700.5 56.4 700.3 59.8" stroke-width="1.1"/><path d="M738.3 100.8Q740.7 96.9 744.9 95.0" stroke-width="2.1"/><path d="M728.3 150.5Q729.7 154.8 732.2 158.7" stroke-width="2.1"/><path d="M713.2 51.0Q713.1 57.4 710.4 63.3" stroke-width="2.1"/><path d="M646.8 123.4Q647.2 127.2 644.8 130.2" stroke-width="1.9"/><path d="M712.6 135.2Q717.0 135.1 720.4 137.9" stroke-width="1.7"/><path d="M646.3 50.0Q646.6 53.6 644.0 56.0" stroke-width="2.1"/><path d="M617.5 89.1Q621.0 92.1 623.8 95.8" stroke-width="1.2"/><path d="M684.2 150.9Q683.4 157.0 685.1 163.0" stroke-width="1.2"/><path d="M744.9 121.3Q748.3 120.3 751.6 119.3" stroke-width="1.3"/><path d="M666.2 103.6Q667.2 108.2 665.5 112.6" stroke-width="2.0"/><path d="M644.5 47.6Q643.3 50.4 642.3 53.1" stroke-width="1.7"/><path d="M630.1 71.3Q630.5 75.2 632.4 78.7" stroke-width="2.2"/><path d="M684.1 169.5Q680.7 174.7 676.8 179.6" stroke-width="1.5"/><path d="M632.4 116.3Q631.9 121.6 631.2 126.9" stroke-width="1.6"/><path d="M703.3 127.5Q709.2 129.3 715.3 129.2" stroke-width="1.4"/><path d="M632.0 96.3Q634.4 101.9 633.9 107.9" stroke-width="1.2"/><path d="M723.3 111.0Q727.4 106.9 733.0 105.3" stroke-width="2.0"/><path d="M702.6 54.1Q700.7 57.8 698.2 61.2" stroke-width="1.8"/><path d="M672.4 55.1Q670.1 60.5 665.1 63.6" stroke-width="1.6"/><path d="M712.1 26.8Q709.8 28.6 708.4 31.1" stroke-width="1.9"/><path d="M698.1 103.8Q701.0 105.5 704.2 106.3" stroke-width="1.5"/><path d="M730.5 141.6Q735.6 143.6 738.7 148.1" stroke-width="1.6"/><path d="M675.6 135.1Q676.8 141.5 680.6 146.9" stroke-width="2.0"/><path d="M677.2 99.9Q677.0 103.6 678.4 107.1" stroke-width="1.7"/><path d="M632.2 63.8Q634.5 69.8 634.5 76.3" stroke-width="1.5"/><path d="M703.8 118.4Q706.4 119.9 709.1 118.7" stroke-width="1.9"/><path d="M653.9 160.5Q650.6 162.6 651.0 166.5" stroke-width="1.6"/><path d="M692.0 113.6Q697.9 115.6 703.6 118.1" stroke-width="1.2"/><path d="M741.8 137.8Q745.3 138.2 747.9 140.5" stroke-width="0.9"/><path d="M687.7 82.3Q687.9 88.4 689.1 94.4" stroke-width="2.2"/><path d="M687.4 27.7Q682.2 31.1 678.5 36.0" stroke-width="1.0"/><path d="M657.5 88.0Q658.1 91.5 655.5 94.0" stroke-width="1.5"/><path d="M719.7 147.2Q721.8 153.1 725.6 158.0" stroke-width="1.1"/><path d="M726.7 39.9Q724.5 42.0 725.5 44.9" stroke-width="1.0"/><path d="M754.5 90.9Q757.0 86.6 761.6 85.0" stroke-width="0.9"/><path d="M684.3 169.8Q682.4 171.6 681.8 174.2" stroke-width="1.3"/><path d="M752.1 105.2Q756.7 102.6 760.5 98.9" stroke-width="1.9"/><path d="M715.4 131.4Q718.7 133.3 722.3 132.2" stroke-width="1.7"/><path d="M739.6 42.3Q742.2 45.3 742.6 49.2" stroke-width="1.8"/><path d="M617.3 113.7Q619.5 119.3 621.0 125.2" stroke-width="1.4"/><path d="M727.1 48.6Q728.6 52.4 728.7 56.4" stroke-width="1.9"/><path d="M737.4 44.9Q737.0 48.9 740.2 51.1" stroke-width="1.3"/><path d="M678.8 130.5Q679.1 133.3 681.4 134.8" stroke-width="2.1"/><path d="M668.2 125.7Q667.7 129.2 669.4 132.2" stroke-width="1.9"/><path d="M723.2 129.2Q728.9 130.5 734.4 128.7" stroke-width="1.9"/><path d="M724.3 34.6Q721.4 36.8 721.4 40.5" stroke-width="0.9"/><path d="M713.3 119.8Q718.3 120.1 722.7 117.6" stroke-width="1.2"/><path d="M661.9 36.5Q660.5 39.2 658.0 41.0" stroke-width="1.6"/><path d="M642.3 139.2Q638.6 142.8 638.1 147.9" stroke-width="1.5"/><path d="M622.6 83.1Q624.1 88.9 628.7 92.7" stroke-width="1.6"/><path d="M678.3 134.5Q679.1 137.2 681.0 139.4" stroke-width="1.1"/><path d="M727.1 109.7Q729.2 107.7 731.9 106.7" stroke-width="2.1"/><path d="M742.4 104.1Q746.4 99.4 751.5 95.9" stroke-width="2.1"/><path d="M715.3 127.1Q718.3 127.9 721.2 126.8" stroke-width="0.9"/><path d="M743.8 116.5Q747.9 115.4 751.2 112.7" stroke-width="1.9"/><path d="M697.1 38.2Q692.6 41.5 688.6 45.4" stroke-width="1.0"/><path d="M720.4 98.4Q726.7 97.7 731.7 93.8" stroke-width="1.7"/><path d="M676.7 46.5Q672.5 49.5 669.3 53.6" stroke-width="1.7"/><path d="M665.3 67.4Q663.0 72.1 659.9 76.4" stroke-width="1.1"/><path d="M703.2 157.3Q704.6 161.6 703.0 165.7" stroke-width="0.9"/><path d="M675.2 58.4Q671.0 60.7 669.2 65.1" stroke-width="1.6"/><path d="M689.0 81.6Q690.7 87.4 690.5 93.4" stroke-width="1.5"/><path d="M694.1 70.1Q693.5 73.9 692.3 77.5" stroke-width="1.7"/><path d="M725.4 162.9Q727.0 166.8 724.8 170.3" stroke-width="1.0"/><path d="M740.2 51.9Q742.1 53.6 743.8 55.4" stroke-width="2.1"/><path d="M694.9 23.3Q691.7 27.3 687.9 30.6" stroke-width="2.1"/><path d="M714.5 126.4Q717.4 124.3 720.6 126.1" stroke-width="2.1"/><path d="M620.2 84.0Q623.2 88.5 626.7 92.6" stroke-width="2.2"/><path d="M695.2 90.0Q698.1 93.4 701.0 96.9" stroke-width="1.5"/><path d="M667.1 43.0Q662.1 47.4 658.8 53.0" stroke-width="1.2"/><path d="M707.8 162.5Q706.0 165.0 706.8 168.1" stroke-width="1.6"/><path d="M709.3 73.6Q712.2 75.5 712.7 78.9" stroke-width="0.9"/><path d="M733.0 35.6Q731.2 38.6 732.1 42.0" stroke-width="1.1"/><path d="M646.1 143.2Q645.6 148.3 642.1 152.0" stroke-width="1.3"/><path d="M661.6 141.3Q661.4 147.4 660.3 153.4" stroke-width="1.8"/><path d="M720.2 154.1Q722.9 159.2 721.9 164.9" stroke-width="2.0"/><path d="M707.6 29.1Q707.1 32.5 703.7 33.2" stroke-width="1.6"/><path d="M734.4 36.4Q735.6 39.9 734.0 43.3" stroke-width="1.7"/><path d="M684.4 90.4Q686.2 93.9 685.7 97.9" stroke-width="1.0"/><path d="M726.1 97.2Q729.8 94.9 733.8 93.1" stroke-width="0.8"/><path d="M656.1 158.4Q654.8 163.3 652.0 167.6" stroke-width="2.0"/><path d="M706.2 133.8Q711.7 134.5 716.4 137.4" stroke-width="2.0"/><path d="M726.6 135.6Q729.3 138.4 733.2 137.5" stroke-width="1.8"/><path d="M659.7 103.9Q659.9 106.5 658.7 108.9" stroke-width="1.6"/><path d="M714.5 59.2Q713.9 61.8 714.9 64.3" stroke-width="0.9"/><path d="M630.1 95.0Q631.8 100.9 632.9 106.9" stroke-width="1.1"/><path d="M668.0 133.5Q667.7 137.6 669.4 141.3" stroke-width="1.7"/><path d="M696.1 89.6Q700.4 94.5 705.7 98.2" stroke-width="1.3"/><path d="M666.7 60.5Q665.1 65.5 661.0 68.8" stroke-width="1.2"/><path d="M693.1 111.4Q696.4 112.1 698.8 114.4" stroke-width="1.9"/><path d="M668.3 114.9Q667.5 118.4 669.1 121.7" stroke-width="2.1"/><path d="M675.7 78.5Q672.7 80.4 673.2 83.9" stroke-width="1.9"/><path d="M654.2 122.1Q654.1 127.5 652.0 132.6" stroke-width="1.6"/><path d="M701.5 106.1Q705.1 105.9 708.4 107.5" stroke-width="1.2"/><path d="M680.6 54.0Q677.3 54.5 676.7 57.8" stroke-width="1.3"/><path d="M644.7 57.1Q645.2 59.8 643.5 62.0" stroke-width="1.7"/><path d="M642.5 99.0Q641.1 103.9 641.5 109.1" stroke-width="1.8"/><path d="M719.6 93.4Q725.0 92.9 729.9 90.7" stroke-width="1.9"/><path d="M709.2 96.3Q713.6 96.0 718.0 96.8" stroke-width="1.3"/><path d="M653.9 86.7Q653.6 90.6 651.8 94.0" stroke-width="2.1"/><path d="M701.2 65.6Q698.9 71.1 700.3 77.0" stroke-width="1.6"/><path d="M719.2 151.3Q720.1 154.5 721.8 157.3" stroke-width="2.0"/><path d="M719.5 57.6Q722.4 61.8 723.1 66.9" stroke-width="1.8"/><path d="M749.0 126.3Q754.5 127.6 759.9 126.1" stroke-width="1.3"/><path d="M690.9 63.7Q687.6 67.7 685.7 72.6" stroke-width="0.9"/><path d="M753.0 92.8Q757.6 88.5 762.6 84.9" stroke-width="1.4"/><path d="M711.4 140.7Q715.3 142.3 718.0 145.6" stroke-width="1.7"/><path d="M657.4 81.9Q655.6 84.4 655.4 87.5" stroke-width="1.6"/><path d="M712.5 38.4Q709.9 40.8 708.1 43.9" stroke-width="1.5"/><path d="M712.6 130.5Q716.1 130.2 719.4 131.3" stroke-width="2.2"/><path d="M669.1 124.2Q670.0 130.5 672.2 136.6" stroke-width="1.4"/><path d="M696.0 76.1Q696.0 80.9 697.4 85.4" stroke-width="1.4"/><path d="M700.9 110.1Q705.6 109.5 710.0 111.2" stroke-width="1.2"/><path d="M620.2 87.6Q622.6 93.5 627.4 97.8" stroke-width="1.1"/><path d="M687.3 59.9Q683.4 62.2 681.8 66.6" stroke-width="1.1"/><path d="M741.3 97.2Q745.3 92.7 750.2 89.3" stroke-width="0.9"/><path d="M672.6 28.9Q670.7 31.8 667.8 33.7" stroke-width="2.0"/><path d="M630.5 114.6Q631.7 118.4 630.3 122.1" stroke-width="1.9"/><path d="M686.6 94.8Q687.3 97.7 688.8 100.3" stroke-width="1.8"/><path d="M620.5 63.3Q621.7 68.0 624.5 72.1" stroke-width="1.4"/><path d="M638.7 101.1Q640.3 106.3 638.3 111.3" stroke-width="1.8"/><path d="M705.5 153.2Q705.4 157.8 707.2 162.0" stroke-width="0.8"/><path d="M723.1 139.9Q728.4 143.1 733.2 147.0" stroke-width="0.9"/><path d="M724.1 74.9Q728.0 74.9 731.5 76.7" stroke-width="0.9"/><path d="M712.9 142.6Q715.1 146.6 719.3 148.5" stroke-width="1.4"/><path d="M733.8 70.4Q738.2 70.2 742.6 71.1" stroke-width="0.9"/><path d="M740.8 140.9Q742.1 143.7 745.1 143.6" stroke-width="1.0"/><path d="M636.1 123.3Q633.9 127.8 633.4 132.8" stroke-width="1.0"/><path d="M739.3 142.8Q743.1 147.3 748.0 150.7" stroke-width="1.9"/><path d="M683.1 111.5Q688.0 114.8 691.1 119.9" stroke-width="1.2"/><path d="M671.3 89.8Q670.0 96.1 668.8 102.4" stroke-width="1.7"/><path d="M715.5 37.3Q712.7 43.1 708.0 47.6" stroke-width="1.4"/><path d="M669.9 164.5Q666.7 168.4 665.8 173.3" stroke-width="1.2"/><path d="M740.5 116.3Q743.4 115.7 745.4 113.6" stroke-width="1.0"/><path d="M710.1 72.2Q714.0 76.1 717.2 80.5" stroke-width="1.6"/><path d="M675.6 165.9Q673.6 171.5 670.1 176.1" stroke-width="1.6"/><path d="M652.9 45.4Q650.5 48.8 648.8 52.6" stroke-width="2.0"/><path d="M689.7 91.9Q691.4 94.0 691.8 96.7" stroke-width="1.9"/><path d="M737.2 98.6Q740.3 96.6 742.8 93.9" stroke-width="1.8"/><path d="M701.6 141.4Q704.6 145.1 708.3 148.0" stroke-width="1.4"/><path d="M666.5 107.5Q666.1 113.1 666.4 118.7" stroke-width="1.6"/><path d="M703.5 132.4Q709.0 132.6 713.5 135.8" stroke-width="1.5"/><path d="M683.5 47.3Q681.0 51.8 676.3 53.7" stroke-width="1.1"/><path d="M675.2 101.4Q674.2 106.2 676.6 110.5" stroke-width="1.9"/><path d="M722.8 135.4Q728.4 138.3 734.7 139.3" stroke-width="1.6"/><path d="M658.3 133.9Q659.1 137.1 657.6 140.1" stroke-width="1.5"/><path d="M729.8 124.0Q735.4 122.3 741.0 120.6" stroke-width="1.4"/><path d="M702.9 136.6Q708.4 137.9 712.3 142.1" stroke-width="1.6"/><path d="M668.9 108.5Q670.7 112.2 669.3 116.0" stroke-width="0.8"/><path d="M672.6 118.6Q675.0 120.7 674.2 123.9" stroke-width="1.5"/><path d="M749.2 65.5Q755.4 66.6 761.1 64.0" stroke-width="1.3"/><path d="M636.4 84.0Q638.9 88.7 637.7 93.9" stroke-width="1.3"/><path d="M706.5 159.8Q706.3 162.7 706.1 165.7" stroke-width="1.1"/><path d="M755.0 121.1Q761.4 121.4 767.5 119.6" stroke-width="1.1"/><path d="M710.9 125.4Q716.9 123.5 723.2 124.4" stroke-width="1.9"/><path d="M645.8 46.6Q645.2 49.6 643.4 52.1" stroke-width="1.6"/><path d="M713.1 97.5Q715.8 98.3 718.4 97.2" stroke-width="2.0"/><path d="M677.4 73.1Q676.9 75.9 674.7 77.7" stroke-width="2.2"/><path d="M733.6 140.0Q738.0 143.5 742.9 146.3" stroke-width="1.7"/><path d="M730.5 126.6Q736.5 123.5 743.3 124.3" stroke-width="1.4"/><path d="M728.8 40.9Q728.3 45.2 728.2 49.5" stroke-width="1.7"/><path d="M687.6 166.3Q685.0 168.7 685.0 172.2" stroke-width="1.6"/><path d="M743.4 89.2Q745.8 87.0 748.6 85.2" stroke-width="1.5"/><path d="M714.5 138.4Q717.5 141.8 722.0 142.3" stroke-width="2.1"/><path d="M734.5 62.8Q737.9 62.4 739.7 65.3" stroke-width="1.8"/><path d="M714.2 113.0Q719.6 112.2 724.3 109.5" stroke-width="2.2"/><path d="M718.4 124.0Q721.9 124.3 725.0 122.7" stroke-width="2.1"/><path d="M707.3 28.8Q703.2 32.4 699.6 36.4" stroke-width="2.1"/><path d="M675.7 141.3Q678.0 145.7 678.5 150.7" stroke-width="1.0"/><path d="M697.9 116.8Q703.7 119.5 710.0 118.5" stroke-width="0.8"/><path d="M707.4 121.5Q711.7 120.9 716.1 121.0" stroke-width="1.5"/><path d="M735.4 149.2Q738.0 151.1 738.9 154.2" stroke-width="1.7"/><path d="M681.7 142.5Q685.4 146.2 685.4 151.5" stroke-width="2.2"/><path d="M755.6 79.7Q757.9 77.5 761.0 76.4" stroke-width="2.1"/><path d="M732.5 120.1Q738.4 117.8 744.0 114.6" stroke-width="1.0"/><path d="M699.0 64.0Q697.9 70.1 696.1 76.2" stroke-width="1.7"/><path d="M694.3 107.2Q699.3 108.9 703.9 111.2" stroke-width="2.0"/><path d="M740.2 113.2Q745.1 112.0 747.9 108.0" stroke-width="1.3"/><path d="M667.6 124.1Q668.2 130.3 670.0 136.3" stroke-width="1.0"/><path d="M660.9 139.7Q660.3 142.7 660.4 145.7" stroke-width="1.8"/><path d="M636.7 48.1Q634.5 52.4 634.7 57.3" stroke-width="1.6"/><path d="M666.3 150.5Q667.1 154.2 665.6 157.6" stroke-width="2.0"/><path d="M721.0 43.3Q721.1 49.3 718.0 54.5" stroke-width="1.1"/><path d="M655.2 46.9Q654.7 50.0 652.1 51.9" stroke-width="2.0"/><path d="M655.7 115.9Q654.8 120.9 653.9 126.0" stroke-width="1.4"/><path d="M734.1 130.4Q737.5 132.0 740.9 130.6" stroke-width="1.5"/><path d="M655.4 148.7Q651.7 153.9 651.4 160.3" stroke-width="1.5"/><path d="M738.5 113.5Q742.7 112.0 745.6 108.7" stroke-width="1.7"/><path d="M690.2 112.9Q696.1 114.8 701.2 118.3" stroke-width="1.3"/><path d="M718.8 43.5Q718.5 47.7 715.9 51.0" stroke-width="1.8"/><path d="M626.7 80.4Q628.9 85.2 631.2 89.9" stroke-width="1.5"/><path d="M648.0 157.5Q646.3 161.0 644.3 164.4" stroke-width="1.7"/></g>
<rect x="610" y="20" width="165" height="160" fill="url(#gR)"/>
<g filter="url(#blur3)">
<ellipse cx="655" cy="152" rx="20" ry="12" fill="#e2b596" opacity="0.7"/>
<ellipse cx="690" cy="90" rx="22" ry="18" fill="#ecd0b8" opacity="0.35"/>
<ellipse cx="745" cy="115" rx="15" ry="25" fill="#e2b596" opacity="0.3"/>
<ellipse cx="690" cy="40" rx="22" ry="10" fill="#a8607a" opacity="0.35"/>
<ellipse cx="630" cy="100" rx="10" ry="25" fill="#b07080" opacity="0.25"/>
</g>
<path d="M627 144 C633 133 643 124 654 123 C663 122.5 668 129 672 139 C667 135 662 132.5 655 132.5 C646 133 639 140 632 150 Z" fill="#6e2e6a" opacity="0.9" filter="url(#soft1)"/>
<ellipse cx="651.4" cy="61.4" rx="20" ry="19" fill="url(#spot1)" filter="url(#soft1)"/>
<ellipse cx="707.5" cy="103.5" rx="19" ry="12" fill="url(#spot1)" transform="rotate(48 707.5 103.5)" filter="url(#soft1)"/>
<path d="M714 110 C718 116 722 122 728 127" stroke="#8a3a50" stroke-width="3" fill="none" opacity="0.5" filter="url(#soft1)"/>
<ellipse cx="733" cy="153" rx="14" ry="11" fill="url(#spot2)" transform="rotate(-35 733 153)" filter="url(#soft)"/>
<ellipse cx="683" cy="48" rx="9" ry="7" fill="#a04a48" opacity="0.5" filter="url(#blur3)"/>
<path d="M727 148 C720 143 714 140 704 137" stroke="#6a2a5a" stroke-width="3.5" fill="none" opacity="0.5" filter="url(#soft1)"/>
</g>
<text x="0.6" y="212.2" class="b" font-size="19.8">C</text>
<path d="M31.50 294.5 L31.50 293.62 L31.77 293.44 L32.05 293.23 L32.33 292.99 L32.60 292.71 L32.88 292.39 L33.15 292.02 L33.42 292.10 L33.70 291.07 L33.98 290.89 L34.25 289.89 L34.52 289.23 L34.80 289.60 L35.08 288.97 L35.35 286.65 L35.62 286.90 L35.90 286.06 L36.17 283.70 L36.45 283.71 L36.73 282.01 L37.00 281.63 L37.27 280.23 L37.55 280.01 L37.83 277.92 L38.10 276.24 L38.38 275.56 L38.65 273.74 L38.92 272.32 L39.20 271.75 L39.48 268.54 L39.75 266.70 L40.02 264.83 L40.30 262.64 L40.58 258.10 L40.85 255.59 L41.12 251.69 L41.40 247.81 L41.67 244.55 L41.95 240.73 L42.23 238.59 L42.50 235.18 L42.77 233.84 L43.05 232.10 L43.33 232.10 L43.60 233.27 L43.88 234.15 L44.15 235.45 L44.42 235.98 L44.70 239.33 L44.98 241.70 L45.25 245.33 L45.52 248.17 L45.80 251.74 L46.08 255.21 L46.35 258.18 L46.62 261.52 L46.90 264.15 L47.17 267.65 L47.45 270.09 L47.73 272.92 L48.00 275.16 L48.27 278.02 L48.55 281.02 L48.83 281.55 L49.10 282.99 L49.38 284.55 L49.65 286.45 L49.92 287.30 L50.20 289.21 L50.48 288.90 L50.75 290.12 L51.02 291.29 L51.30 292.26 L51.58 291.25 L51.85 292.32 L52.12 292.67 L52.40 292.97 L52.67 293.23 L52.95 293.44 L53.23 293.63 L53.50 293.78 L53.50 294.5 Z" fill="#3c3c3c"/>
<path d="M73.50 294.5 L73.50 293.47 L73.80 293.29 L74.11 293.10 L74.41 292.87 L74.72 292.62 L75.02 292.34 L75.32 291.19 L75.63 292.39 L75.93 290.79 L76.23 291.05 L76.54 291.04 L76.84 290.30 L77.14 288.96 L77.45 288.20 L77.75 289.01 L78.06 287.37 L78.36 287.64 L78.66 285.73 L78.97 285.58 L79.27 283.78 L79.58 282.68 L79.88 282.51 L80.18 280.60 L80.49 280.63 L80.79 279.80 L81.09 277.56 L81.40 277.09 L81.70 275.23 L82.00 273.16 L82.31 270.96 L82.61 269.75 L82.92 267.80 L83.22 264.09 L83.52 262.62 L83.83 258.97 L84.13 256.44 L84.44 254.63 L84.74 251.79 L85.04 249.06 L85.35 246.35 L85.65 244.13 L85.95 242.13 L86.26 240.25 L86.56 238.28 L86.86 238.01 L87.17 237.55 L87.47 237.30 L87.78 238.10 L88.08 238.83 L88.38 239.15 L88.69 242.10 L88.99 244.82 L89.30 249.03 L89.60 252.01 L89.90 255.68 L90.21 260.74 L90.51 263.82 L90.81 267.81 L91.12 272.62 L91.42 275.20 L91.72 278.70 L92.03 281.22 L92.33 284.29 L92.64 285.82 L92.94 287.57 L93.24 290.28 L93.55 291.41 L93.85 291.31 L94.16 292.36 L94.46 292.93 L94.76 293.37 L95.07 293.69 L95.37 293.93 L95.67 294.10 L95.98 294.22 L96.28 294.31 L96.58 294.37 L96.89 294.41 L97.19 294.44 L97.50 294.46 L97.80 294.47 L97.80 294.5 Z" fill="#00bdf0"/>
<rect x="24.4" y="220.8" width="74" height="73.7" fill="none" stroke="#9494e4" stroke-width="1.05"/>
<path d="M23.799999999999997 294.5H99.0" stroke="#3a44c8" stroke-width="1.5"/>
<path d="M24.4 249.4L55.2 249.4M55.2 249.4L55.2 245.2M55.2 245.2L98 245.2" stroke="#c6c6d6" stroke-width="0.6" fill="none"/>
<text x="26.4" y="225.20000000000002" class="t">PE-A-</text>
<text x="26.4" y="230.5" class="t">0.076%</text>
<text x="96.4" y="225.20000000000002" class="t" text-anchor="end">PE-A+</text>
<text x="96.4" y="230.5" class="t" text-anchor="end">99.9%</text>
<text x="31.4" y="304.0" class="t" text-anchor="middle">0</text>
<path d="M31.4 294.5V295.9" stroke="#3a44c8" stroke-width="0.6"/>
<text x="40.4" y="304.0" class="t" text-anchor="middle">10<tspan dy="-1.6" font-size="2.6">2</tspan></text>
<path d="M40.4 294.5V295.9" stroke="#3a44c8" stroke-width="0.6"/>
<text x="56.9" y="304.0" class="t" text-anchor="middle">10<tspan dy="-1.6" font-size="2.6">3</tspan></text>
<path d="M56.9 294.5V295.9" stroke="#3a44c8" stroke-width="0.6"/>
<text x="72.9" y="304.0" class="t" text-anchor="middle">10<tspan dy="-1.6" font-size="2.6">4</tspan></text>
<path d="M72.9 294.5V295.9" stroke="#3a44c8" stroke-width="0.6"/>
<text x="88.9" y="304.0" class="t" text-anchor="middle">10<tspan dy="-1.6" font-size="2.6">5</tspan></text>
<path d="M88.9 294.5V295.9" stroke="#3a44c8" stroke-width="0.6"/>
<text x="44.9" y="312.0" class="t2">CD44</text>
<text x="57.9" y="312.0" class="t">PE-A</text>
<text x="19.799999999999997" y="295.7" class="t" text-anchor="middle">0</text>
<path d="M128.50 294.3 L128.50 292.55 L128.71 292.28 L128.93 291.98 L129.14 290.75 L129.35 291.74 L129.56 290.93 L129.78 290.19 L129.99 290.20 L130.20 289.54 L130.41 288.99 L130.62 288.18 L130.84 286.96 L131.05 286.66 L131.26 285.57 L131.47 283.76 L131.69 284.05 L131.90 281.75 L132.11 280.06 L132.32 279.39 L132.54 277.94 L132.75 275.06 L132.96 274.27 L133.18 272.35 L133.39 269.72 L133.60 266.93 L133.81 265.68 L134.03 262.74 L134.24 260.12 L134.45 256.49 L134.66 254.53 L134.88 250.99 L135.09 249.59 L135.30 246.58 L135.51 243.37 L135.72 240.42 L135.94 238.92 L136.15 237.21 L136.36 235.51 L136.57 233.10 L136.79 232.43 L137.00 230.26 L137.21 230.00 L137.43 230.61 L137.64 230.58 L137.85 230.13 L138.06 231.49 L138.28 232.69 L138.49 235.52 L138.70 238.28 L138.91 240.65 L139.12 242.66 L139.34 246.86 L139.55 250.08 L139.76 253.40 L139.97 256.90 L140.19 260.39 L140.40 262.81 L140.61 267.57 L140.82 270.99 L141.04 272.13 L141.25 274.98 L141.46 277.28 L141.68 280.63 L141.89 281.67 L142.10 283.53 L142.31 286.49 L142.53 286.87 L142.74 287.89 L142.95 289.25 L143.16 290.40 L143.38 291.57 L143.59 291.77 L143.80 292.27 L144.01 292.67 L144.22 293.01 L144.44 293.28 L144.65 293.49 L144.86 293.66 L145.07 293.80 L145.29 293.91 L145.50 293.99 L145.50 294.3 Z" fill="#3c3c3c"/>
<path d="M160.00 294.3 L160.00 294.20 L160.41 294.17 L160.82 294.13 L161.24 294.09 L161.65 294.04 L162.06 293.98 L162.47 293.91 L162.89 293.82 L163.30 293.73 L163.71 293.62 L164.12 293.50 L164.54 293.37 L164.95 293.23 L165.36 293.07 L165.78 292.91 L166.19 292.73 L166.60 292.55 L167.01 292.37 L167.43 292.43 L167.84 292.43 L168.25 292.49 L168.66 291.48 L169.07 291.78 L169.49 290.77 L169.90 291.80 L170.31 290.26 L170.72 290.41 L171.14 289.84 L171.55 289.66 L171.96 289.41 L172.38 289.65 L172.79 290.22 L173.20 288.69 L173.61 289.18 L174.03 288.48 L174.44 287.35 L174.85 286.92 L175.26 286.37 L175.68 284.70 L176.09 284.27 L176.50 283.61 L176.91 282.51 L177.32 280.13 L177.74 279.11 L178.15 276.77 L178.56 275.33 L178.97 273.18 L179.39 269.97 L179.80 266.57 L180.21 264.42 L180.62 260.08 L181.04 256.44 L181.45 253.22 L181.86 249.94 L182.28 248.28 L182.69 244.80 L183.10 242.53 L183.51 242.62 L183.93 241.86 L184.34 242.33 L184.75 243.65 L185.16 246.81 L185.57 250.78 L185.99 255.11 L186.40 261.59 L186.81 266.86 L187.22 271.92 L187.64 276.68 L188.05 280.95 L188.46 283.05 L188.88 286.10 L189.29 289.57 L189.70 290.60 L190.11 292.13 L190.53 292.70 L190.94 293.30 L191.35 293.69 L191.76 293.94 L192.18 294.09 L192.59 294.18 L193.00 294.24 L193.00 294.3 Z" fill="#00bdf0"/>
<rect x="120.3" y="220.8" width="72.5" height="73.5" fill="none" stroke="#9494e4" stroke-width="1.05"/>
<path d="M119.7 294.3H193.4" stroke="#3a44c8" stroke-width="1.5"/>
<path d="M120.3 242.4L147.5 242.4M147.5 242.4L147.5 238.8M147.5 238.8L192.3 238.8" stroke="#c6c6d6" stroke-width="0.6" fill="none"/>
<text x="122.3" y="225.20000000000002" class="t">FITC-A-</text>
<text x="122.3" y="230.5" class="t">0.116%</text>
<text x="190.8" y="225.20000000000002" class="t" text-anchor="end">FITC-A+</text>
<text x="190.8" y="230.5" class="t" text-anchor="end">99.9%</text>
<text x="127.3" y="303.8" class="t" text-anchor="middle">0</text>
<path d="M127.3 294.3V295.7" stroke="#3a44c8" stroke-width="0.6"/>
<text x="136.3" y="303.8" class="t" text-anchor="middle">10<tspan dy="-1.6" font-size="2.6">2</tspan></text>
<path d="M136.3 294.3V295.7" stroke="#3a44c8" stroke-width="0.6"/>
<text x="152.8" y="303.8" class="t" text-anchor="middle">10<tspan dy="-1.6" font-size="2.6">3</tspan></text>
<path d="M152.8 294.3V295.7" stroke="#3a44c8" stroke-width="0.6"/>
<text x="168.8" y="303.8" class="t" text-anchor="middle">10<tspan dy="-1.6" font-size="2.6">4</tspan></text>
<path d="M168.8 294.3V295.7" stroke="#3a44c8" stroke-width="0.6"/>
<text x="184.8" y="303.8" class="t" text-anchor="middle">10<tspan dy="-1.6" font-size="2.6">5</tspan></text>
<path d="M184.8 294.3V295.7" stroke="#3a44c8" stroke-width="0.6"/>
<text x="138.8" y="311.8" class="t2">CD90</text>
<text x="151.7" y="311.8" class="t">FITC-A</text>
<text x="115.7" y="295.5" class="t" text-anchor="middle">0</text>
<path d="M228.50 294.3 L228.50 294.09 L228.78 294.03 L229.05 293.95 L229.32 293.86 L229.60 293.74 L229.88 293.60 L230.15 293.43 L230.43 293.23 L230.70 292.99 L230.97 292.70 L231.25 292.37 L231.53 291.99 L231.80 291.89 L232.07 291.32 L232.35 290.20 L232.62 289.67 L232.90 289.37 L233.18 288.88 L233.45 287.72 L233.72 287.10 L234.00 285.19 L234.28 283.66 L234.55 282.90 L234.82 281.92 L235.10 280.02 L235.38 277.74 L235.65 275.17 L235.93 272.46 L236.20 270.57 L236.47 266.90 L236.75 264.09 L237.03 261.09 L237.30 257.66 L237.57 253.79 L237.85 249.73 L238.12 246.67 L238.40 242.72 L238.68 239.99 L238.95 237.63 L239.22 234.87 L239.50 233.01 L239.78 233.33 L240.05 232.64 L240.32 233.34 L240.60 233.77 L240.88 235.47 L241.15 238.82 L241.43 240.59 L241.70 243.88 L241.97 248.23 L242.25 251.41 L242.53 255.72 L242.80 258.13 L243.07 262.05 L243.35 265.17 L243.62 268.71 L243.90 272.10 L244.18 274.89 L244.45 277.85 L244.72 281.09 L245.00 282.31 L245.28 285.25 L245.55 286.61 L245.82 286.83 L246.10 289.36 L246.38 290.27 L246.65 291.10 L246.93 290.35 L247.20 292.23 L247.47 292.11 L247.75 292.50 L248.03 292.82 L248.30 293.09 L248.57 293.31 L248.85 293.48 L249.12 293.63 L249.40 293.75 L249.68 293.85 L249.95 293.93 L250.22 294.00 L250.50 294.05 L250.50 294.3 Z" fill="#3c3c3c"/>
<path d="M229.50 294.3 L229.50 294.30 L229.79 294.30 L230.09 294.30 L230.38 294.30 L230.68 294.29 L230.97 294.29 L231.26 294.28 L231.56 294.27 L231.85 294.25 L232.14 294.23 L232.44 294.20 L232.73 294.14 L233.03 294.07 L233.32 293.97 L233.61 293.82 L233.91 293.63 L234.20 293.36 L234.49 293.01 L234.79 292.55 L235.08 292.77 L235.38 290.61 L235.67 290.90 L235.96 288.49 L236.26 287.36 L236.55 285.38 L236.84 283.18 L237.14 281.51 L237.43 278.51 L237.72 276.88 L238.02 272.41 L238.31 269.39 L238.61 265.38 L238.90 262.65 L239.19 257.73 L239.49 253.65 L239.78 251.55 L240.07 247.76 L240.37 244.36 L240.66 241.38 L240.96 240.37 L241.25 239.05 L241.54 238.09 L241.84 237.20 L242.13 237.20 L242.43 237.73 L242.72 238.48 L243.01 239.50 L243.31 240.97 L243.60 242.54 L243.89 245.06 L244.19 246.52 L244.48 248.07 L244.78 251.53 L245.07 253.57 L245.36 257.22 L245.66 258.95 L245.95 261.44 L246.24 264.11 L246.54 266.82 L246.83 269.22 L247.12 271.17 L247.42 272.83 L247.71 276.08 L248.01 278.00 L248.30 278.58 L248.59 279.86 L248.89 281.99 L249.18 283.44 L249.47 284.17 L249.77 286.19 L250.06 287.05 L250.36 288.07 L250.65 288.23 L250.94 289.43 L251.24 290.23 L251.53 290.03 L251.82 290.11 L252.12 291.71 L252.41 291.42 L252.71 292.14 L253.00 292.46 L253.00 294.3 Z" fill="#00bdf0"/>
<rect x="221.3" y="221.3" width="73.3" height="73" fill="none" stroke="#9494e4" stroke-width="1.05"/>
<path d="M220.70000000000002 294.3H295.20000000000005" stroke="#3a44c8" stroke-width="1.5"/>
<path d="M236.3 230.3L249.8 230.3M249.8 230.3L249.8 225.9M249.8 225.9L278.4 225.9" stroke="#c6c6d6" stroke-width="0.6" fill="none"/>
<text x="223.3" y="225.70000000000002" class="t">FITC-A-</text>
<text x="223.3" y="231.0" class="t">96.4%</text>
<text x="292.6" y="225.70000000000002" class="t" text-anchor="end">FITC-A+</text>
<text x="292.6" y="231.0" class="t" text-anchor="end">3.64%</text>
<text x="228.3" y="303.8" class="t" text-anchor="middle">0</text>
<path d="M228.3 294.3V295.7" stroke="#3a44c8" stroke-width="0.6"/>
<text x="237.3" y="303.8" class="t" text-anchor="middle">10<tspan dy="-1.6" font-size="2.6">2</tspan></text>
<path d="M237.3 294.3V295.7" stroke="#3a44c8" stroke-width="0.6"/>
<text x="253.8" y="303.8" class="t" text-anchor="middle">10<tspan dy="-1.6" font-size="2.6">3</tspan></text>
<path d="M253.8 294.3V295.7" stroke="#3a44c8" stroke-width="0.6"/>
<text x="269.8" y="303.8" class="t" text-anchor="middle">10<tspan dy="-1.6" font-size="2.6">4</tspan></text>
<path d="M269.8 294.3V295.7" stroke="#3a44c8" stroke-width="0.6"/>
<text x="285.8" y="303.8" class="t" text-anchor="middle">10<tspan dy="-1.6" font-size="2.6">5</tspan></text>
<path d="M285.8 294.3V295.7" stroke="#3a44c8" stroke-width="0.6"/>
<text x="237.8" y="311.8" class="t2">CD105</text>
<text x="252.5" y="311.8" class="t">FITC-A</text>
<text x="216.70000000000002" y="295.5" class="t" text-anchor="middle">0</text>
<path d="M344.50 294.3 L344.50 293.44 L344.59 293.09 L344.68 292.63 L344.76 292.14 L344.85 290.73 L344.94 290.11 L345.02 289.31 L345.11 287.87 L345.20 286.33 L345.29 283.57 L345.38 281.26 L345.46 278.81 L345.55 275.52 L345.64 272.31 L345.73 268.25 L345.81 265.63 L345.90 260.96 L345.99 258.34 L346.07 255.09 L346.16 252.58 L346.25 249.86 L346.34 248.27 L346.43 247.68 L346.51 247.53 L346.60 247.50 L346.69 247.50 L346.77 248.20 L346.86 248.14 L346.95 248.34 L347.04 249.66 L347.12 250.71 L347.21 251.52 L347.30 251.75 L347.39 252.79 L347.48 253.46 L347.56 254.74 L347.65 256.79 L347.74 258.11 L347.82 259.30 L347.91 260.73 L348.00 261.36 L348.09 262.53 L348.18 263.86 L348.26 266.17 L348.35 266.72 L348.44 268.89 L348.52 270.12 L348.61 271.06 L348.70 273.31 L348.79 274.61 L348.88 274.85 L348.96 276.85 L349.05 277.97 L349.14 278.81 L349.23 279.79 L349.31 281.79 L349.40 282.35 L349.49 283.17 L349.57 284.01 L349.66 285.26 L349.75 285.54 L349.84 285.79 L349.93 287.29 L350.01 287.74 L350.10 288.95 L350.19 289.30 L350.27 289.28 L350.36 290.54 L350.45 289.90 L350.54 290.28 L350.62 291.79 L350.71 290.94 L350.80 292.05 L350.89 291.77 L350.98 292.04 L351.06 292.63 L351.15 292.83 L351.24 293.01 L351.32 293.17 L351.41 293.32 L351.50 293.44 L351.50 294.3 Z" fill="#3c3c3c"/>
<path d="M328.50 294.3 L328.50 294.30 L328.92 294.30 L329.34 294.30 L329.76 294.30 L330.18 294.29 L330.59 294.28 L331.01 294.27 L331.43 294.24 L331.85 294.19 L332.27 294.10 L332.69 293.96 L333.11 293.72 L333.52 293.36 L333.94 292.80 L334.36 291.98 L334.78 291.22 L335.20 288.84 L335.62 286.71 L336.04 283.58 L336.46 281.10 L336.88 275.83 L337.29 270.39 L337.71 265.30 L338.13 259.46 L338.55 253.98 L338.97 247.04 L339.39 241.58 L339.81 235.91 L340.23 232.11 L340.64 229.72 L341.06 229.23 L341.48 228.68 L341.90 230.52 L342.32 234.25 L342.74 236.24 L343.16 240.17 L343.57 244.37 L343.99 245.38 L344.41 248.95 L344.83 250.06 L345.25 250.47 L345.67 251.80 L346.09 253.07 L346.51 254.04 L346.93 255.44 L347.34 256.68 L347.76 257.81 L348.18 258.81 L348.60 258.24 L349.02 258.82 L349.44 259.92 L349.86 260.34 L350.27 262.13 L350.69 263.70 L351.11 265.25 L351.53 266.18 L351.95 269.74 L352.37 270.76 L352.79 273.22 L353.21 274.16 L353.62 276.95 L354.04 278.93 L354.46 280.69 L354.88 282.24 L355.30 283.50 L355.72 285.91 L356.14 286.38 L356.56 289.12 L356.98 289.94 L357.39 291.25 L357.81 292.05 L358.23 291.97 L358.65 292.52 L359.07 292.96 L359.49 293.31 L359.91 293.58 L360.32 293.78 L360.74 293.93 L361.16 294.04 L361.58 294.13 L362.00 294.18 L362.00 294.3 Z" fill="#00bdf0"/>
<rect x="316.7" y="221.8" width="72.6" height="72.5" fill="none" stroke="#9494e4" stroke-width="1.05"/>
<path d="M316.09999999999997 294.3H389.9" stroke="#3a44c8" stroke-width="1.5"/>
<path d="M316.7 241.2L355.3 241.2M355.3 241.2L355.3 238.9M355.3 238.9L388.6 238.9" stroke="#c6c6d6" stroke-width="0.6" fill="none"/>
<text x="318.7" y="226.20000000000002" class="t">PE-A-</text>
<text x="318.7" y="231.5" class="t">99.7%</text>
<text x="387.29999999999995" y="226.20000000000002" class="t" text-anchor="end">PE-A+</text>
<text x="387.29999999999995" y="231.5" class="t" text-anchor="end">0.264%</text>
<text x="323.7" y="303.8" class="t" text-anchor="middle">0</text>
<path d="M323.7 294.3V295.7" stroke="#3a44c8" stroke-width="0.6"/>
<text x="332.7" y="303.8" class="t" text-anchor="middle">10<tspan dy="-1.6" font-size="2.6">2</tspan></text>
<path d="M332.7 294.3V295.7" stroke="#3a44c8" stroke-width="0.6"/>
<text x="349.2" y="303.8" class="t" text-anchor="middle">10<tspan dy="-1.6" font-size="2.6">3</tspan></text>
<path d="M349.2 294.3V295.7" stroke="#3a44c8" stroke-width="0.6"/>
<text x="365.2" y="303.8" class="t" text-anchor="middle">10<tspan dy="-1.6" font-size="2.6">4</tspan></text>
<path d="M365.2 294.3V295.7" stroke="#3a44c8" stroke-width="0.6"/>
<text x="381.2" y="303.8" class="t" text-anchor="middle">10<tspan dy="-1.6" font-size="2.6">5</tspan></text>
<path d="M381.2 294.3V295.7" stroke="#3a44c8" stroke-width="0.6"/>
<text x="333.7" y="311.8" class="t2">CD117</text>
<text x="349.09999999999997" y="311.8" class="t">PE-A</text>
<text x="312.09999999999997" y="295.5" class="t" text-anchor="middle">0</text>
<path d="M75.00 395.7 L75.00 390.14 L75.19 389.55 L75.38 389.81 L75.56 388.97 L75.75 387.63 L75.94 386.02 L76.12 384.80 L76.31 383.75 L76.50 382.78 L76.69 382.26 L76.88 380.34 L77.06 379.18 L77.25 376.92 L77.44 375.13 L77.62 374.01 L77.81 372.04 L78.00 369.09 L78.19 368.48 L78.38 364.95 L78.56 362.67 L78.75 360.40 L78.94 359.29 L79.12 356.79 L79.31 354.55 L79.50 352.30 L79.69 349.54 L79.88 348.01 L80.06 346.74 L80.25 343.78 L80.44 342.68 L80.62 340.77 L80.81 338.98 L81.00 338.93 L81.19 336.24 L81.38 335.37 L81.56 334.80 L81.75 334.04 L81.94 333.66 L82.12 333.86 L82.31 333.20 L82.50 334.21 L82.69 333.73 L82.88 334.09 L83.06 335.33 L83.25 336.19 L83.44 336.76 L83.62 338.39 L83.81 341.48 L84.00 342.10 L84.19 344.40 L84.38 347.58 L84.56 349.20 L84.75 351.73 L84.94 354.36 L85.12 355.87 L85.31 357.53 L85.50 361.06 L85.69 362.39 L85.88 365.05 L86.06 368.37 L86.25 369.22 L86.44 371.83 L86.62 373.25 L86.81 375.59 L87.00 377.38 L87.19 379.86 L87.38 380.61 L87.56 381.89 L87.75 383.42 L87.94 385.50 L88.12 386.09 L88.31 387.68 L88.50 389.36 L88.69 390.37 L88.88 391.10 L89.06 391.58 L89.25 392.29 L89.44 392.22 L89.62 392.34 L89.81 393.08 L90.00 393.53 L90.00 395.7 Z" fill="#3c3c3c"/>
<path d="M70.50 395.7 L70.50 394.95 L70.78 394.78 L71.06 394.57 L71.34 394.33 L71.62 394.05 L71.91 393.71 L72.19 393.32 L72.47 393.01 L72.75 392.07 L73.03 392.11 L73.31 391.13 L73.59 389.82 L73.88 389.60 L74.16 389.03 L74.44 386.60 L74.72 385.72 L75.00 385.02 L75.28 383.54 L75.56 381.64 L75.84 379.76 L76.12 378.57 L76.41 376.96 L76.69 374.43 L76.97 371.09 L77.25 369.89 L77.53 366.82 L77.81 364.75 L78.09 362.09 L78.38 359.49 L78.66 356.37 L78.94 354.14 L79.22 351.77 L79.50 349.06 L79.78 346.51 L80.06 343.62 L80.34 342.29 L80.62 340.45 L80.91 337.99 L81.19 336.66 L81.47 335.00 L81.75 335.41 L82.03 334.30 L82.31 334.19 L82.59 335.10 L82.88 334.00 L83.16 336.31 L83.44 337.90 L83.72 338.92 L84.00 341.55 L84.28 343.05 L84.56 346.16 L84.84 349.37 L85.12 352.47 L85.41 354.28 L85.69 358.24 L85.97 360.43 L86.25 364.13 L86.53 366.30 L86.81 370.41 L87.09 373.30 L87.38 375.91 L87.66 377.36 L87.94 379.98 L88.22 382.59 L88.50 384.95 L88.78 385.55 L89.06 386.53 L89.34 388.55 L89.62 390.80 L89.91 391.75 L90.19 392.50 L90.47 393.08 L90.75 393.94 L91.03 393.60 L91.31 394.02 L91.59 394.37 L91.88 394.66 L92.16 394.89 L92.44 395.07 L92.72 395.22 L93.00 395.33 L93.00 395.7 Z" fill="#00bdf0"/>
<rect x="64.6" y="323" width="73.5" height="72.7" fill="none" stroke="#9494e4" stroke-width="1.05"/>
<path d="M63.99999999999999 395.7H138.7" stroke="#3a44c8" stroke-width="1.5"/>
<path d="M64.6 346.1L94 346.1M94 346.1L94 341.9M94 341.9L137.6 341.9" stroke="#c6c6d6" stroke-width="0.6" fill="none"/>
<text x="66.6" y="327.4" class="t">FITC-A-</text>
<text x="66.6" y="332.7" class="t">99.7%</text>
<text x="136.1" y="327.4" class="t" text-anchor="end">FITC-A+</text>
<text x="136.1" y="332.7" class="t" text-anchor="end">0.311%</text>
<text x="71.6" y="405.2" class="t" text-anchor="middle">0</text>
<path d="M71.6 395.7V397.09999999999997" stroke="#3a44c8" stroke-width="0.6"/>
<text x="80.6" y="405.2" class="t" text-anchor="middle">10<tspan dy="-1.6" font-size="2.6">2</tspan></text>
<path d="M80.6 395.7V397.09999999999997" stroke="#3a44c8" stroke-width="0.6"/>
<text x="97.1" y="405.2" class="t" text-anchor="middle">10<tspan dy="-1.6" font-size="2.6">3</tspan></text>
<path d="M97.1 395.7V397.09999999999997" stroke="#3a44c8" stroke-width="0.6"/>
<text x="113.1" y="405.2" class="t" text-anchor="middle">10<tspan dy="-1.6" font-size="2.6">4</tspan></text>
<path d="M113.1 395.7V397.09999999999997" stroke="#3a44c8" stroke-width="0.6"/>
<text x="129.1" y="405.2" class="t" text-anchor="middle">10<tspan dy="-1.6" font-size="2.6">5</tspan></text>
<path d="M129.1 395.7V397.09999999999997" stroke="#3a44c8" stroke-width="0.6"/>
<text x="79.1" y="413.2" class="t2">CD45</text>
<text x="94.19999999999999" y="413.2" class="t">FITC-A</text>
<text x="59.99999999999999" y="396.9" class="t" text-anchor="middle">0</text>
<path d="M178.00 395.20000000000005 L178.00 392.56 L178.19 390.93 L178.38 389.87 L178.56 390.43 L178.75 388.26 L178.94 388.28 L179.12 386.74 L179.31 385.48 L179.50 384.28 L179.69 384.66 L179.88 382.81 L180.06 380.80 L180.25 378.61 L180.44 378.47 L180.62 376.32 L180.81 373.44 L181.00 372.79 L181.19 370.25 L181.38 368.22 L181.56 365.41 L181.75 362.72 L181.94 361.81 L182.12 358.50 L182.31 356.22 L182.50 353.76 L182.69 352.04 L182.88 349.20 L183.06 348.11 L183.25 346.02 L183.44 344.47 L183.62 341.75 L183.81 340.71 L184.00 339.68 L184.19 338.65 L184.38 336.66 L184.56 336.08 L184.75 335.33 L184.94 335.59 L185.12 335.32 L185.31 336.07 L185.50 335.46 L185.69 337.32 L185.88 337.36 L186.06 337.90 L186.25 339.31 L186.44 341.80 L186.62 343.17 L186.81 343.86 L187.00 346.13 L187.19 347.73 L187.38 349.86 L187.56 352.81 L187.75 354.26 L187.94 356.83 L188.12 359.84 L188.31 362.06 L188.50 364.86 L188.69 366.50 L188.88 367.68 L189.06 371.31 L189.25 372.51 L189.44 375.28 L189.62 377.19 L189.81 377.92 L190.00 380.31 L190.19 382.20 L190.38 383.45 L190.56 383.90 L190.75 385.24 L190.94 387.40 L191.12 388.03 L191.31 387.64 L191.50 389.83 L191.69 389.97 L191.88 390.90 L192.06 390.86 L192.25 391.71 L192.44 391.85 L192.62 392.72 L192.81 393.14 L193.00 393.46 L193.00 395.20000000000005 Z" fill="#3c3c3c"/>
<path d="M173.50 395.20000000000005 L173.50 395.08 L173.78 395.04 L174.06 394.98 L174.34 394.92 L174.62 394.83 L174.91 394.72 L175.19 394.59 L175.47 394.42 L175.75 394.21 L176.03 393.96 L176.31 393.64 L176.59 393.27 L176.88 393.37 L177.16 392.85 L177.44 392.39 L177.72 390.32 L178.00 390.72 L178.28 389.88 L178.56 387.07 L178.84 387.14 L179.12 384.46 L179.41 384.27 L179.69 381.81 L179.97 380.28 L180.25 377.07 L180.53 375.16 L180.81 372.67 L181.09 369.88 L181.38 367.00 L181.66 365.14 L181.94 361.84 L182.22 359.24 L182.50 356.96 L182.78 352.85 L183.06 350.54 L183.34 347.53 L183.62 346.16 L183.91 343.33 L184.19 341.47 L184.47 339.30 L184.75 339.05 L185.03 337.51 L185.31 336.56 L185.59 336.96 L185.88 336.20 L186.16 336.23 L186.44 337.56 L186.72 338.29 L187.00 339.82 L187.28 342.27 L187.56 344.06 L187.84 345.18 L188.12 348.81 L188.41 351.23 L188.69 354.53 L188.97 357.03 L189.25 359.87 L189.53 361.25 L189.81 364.30 L190.09 366.65 L190.38 368.97 L190.66 372.04 L190.94 373.74 L191.22 376.58 L191.50 378.78 L191.78 379.68 L192.06 381.45 L192.34 382.91 L192.62 385.14 L192.91 385.89 L193.19 387.68 L193.47 387.65 L193.75 388.69 L194.03 390.59 L194.31 390.16 L194.59 392.10 L194.88 392.80 L195.16 392.15 L195.44 392.95 L195.72 393.30 L196.00 393.60 L196.00 395.20000000000005 Z" fill="#00bdf0"/>
<rect x="166.8" y="323.6" width="72.1" height="71.6" fill="none" stroke="#9494e4" stroke-width="1.05"/>
<path d="M166.20000000000002 395.20000000000005H239.5" stroke="#3a44c8" stroke-width="1.5"/>
<path d="M166.8 344L198.5 344M198.5 344L198.5 340.9M198.5 340.9L238.5 340.9" stroke="#c6c6d6" stroke-width="0.6" fill="none"/>
<text x="168.8" y="328.0" class="t">PE-A-</text>
<text x="168.8" y="333.3" class="t">99.8%</text>
<text x="236.9" y="328.0" class="t" text-anchor="end">PE-A+</text>
<text x="236.9" y="333.3" class="t" text-anchor="end">0.154%</text>
<text x="173.8" y="404.70000000000005" class="t" text-anchor="middle">0</text>
<path d="M173.8 395.20000000000005V396.6" stroke="#3a44c8" stroke-width="0.6"/>
<text x="182.8" y="404.70000000000005" class="t" text-anchor="middle">10<tspan dy="-1.6" font-size="2.6">2</tspan></text>
<path d="M182.8 395.20000000000005V396.6" stroke="#3a44c8" stroke-width="0.6"/>
<text x="199.3" y="404.70000000000005" class="t" text-anchor="middle">10<tspan dy="-1.6" font-size="2.6">3</tspan></text>
<path d="M199.3 395.20000000000005V396.6" stroke="#3a44c8" stroke-width="0.6"/>
<text x="215.3" y="404.70000000000005" class="t" text-anchor="middle">10<tspan dy="-1.6" font-size="2.6">4</tspan></text>
<path d="M215.3 395.20000000000005V396.6" stroke="#3a44c8" stroke-width="0.6"/>
<text x="231.3" y="404.70000000000005" class="t" text-anchor="middle">10<tspan dy="-1.6" font-size="2.6">5</tspan></text>
<path d="M231.3 395.20000000000005V396.6" stroke="#3a44c8" stroke-width="0.6"/>
<text x="185.20000000000002" y="412.70000000000005" class="t2">CD34</text>
<text x="198.20000000000002" y="412.70000000000005" class="t">PE-A</text>
<text x="162.20000000000002" y="396.40000000000003" class="t" text-anchor="middle">0</text>
<path d="M274.00 395.79999999999995 L274.00 392.94 L274.18 392.14 L274.36 391.50 L274.54 392.13 L274.73 390.33 L274.91 390.65 L275.09 389.77 L275.27 389.29 L275.45 387.87 L275.63 387.13 L275.81 387.17 L275.99 386.66 L276.18 385.40 L276.36 384.23 L276.54 383.81 L276.72 382.58 L276.90 380.32 L277.08 379.21 L277.26 377.43 L277.44 376.07 L277.62 374.85 L277.81 374.29 L277.99 373.14 L278.17 371.26 L278.35 369.31 L278.53 367.48 L278.71 365.68 L278.89 364.19 L279.07 361.43 L279.26 360.58 L279.44 358.33 L279.62 355.62 L279.80 353.83 L279.98 352.83 L280.16 351.02 L280.34 348.13 L280.52 347.78 L280.71 345.83 L280.89 343.46 L281.07 341.91 L281.25 341.17 L281.43 340.09 L281.61 338.66 L281.79 336.63 L281.98 336.35 L282.16 334.80 L282.34 334.80 L282.52 334.80 L282.70 335.65 L282.88 335.49 L283.06 336.12 L283.24 335.87 L283.43 336.86 L283.61 338.85 L283.79 340.04 L283.97 343.53 L284.15 346.28 L284.33 349.94 L284.51 352.73 L284.69 357.42 L284.88 361.75 L285.06 366.15 L285.24 369.31 L285.42 372.61 L285.60 375.93 L285.78 378.59 L285.96 381.55 L286.14 385.02 L286.32 387.33 L286.51 387.99 L286.69 389.43 L286.87 391.19 L287.05 391.62 L287.23 392.94 L287.41 393.68 L287.59 394.19 L287.77 394.58 L287.96 394.88 L288.14 395.11 L288.32 395.29 L288.50 395.41 L288.50 395.79999999999995 Z" fill="#3c3c3c"/>
<path d="M277.00 395.79999999999995 L277.00 395.76 L277.25 395.74 L277.50 395.71 L277.75 395.68 L278.00 395.63 L278.25 395.57 L278.50 395.48 L278.75 395.37 L279.00 395.22 L279.25 395.03 L279.50 394.78 L279.75 394.47 L280.00 394.08 L280.25 393.59 L280.50 393.37 L280.75 392.83 L281.00 392.21 L281.25 390.08 L281.50 388.41 L281.75 386.96 L282.00 386.06 L282.25 383.84 L282.50 381.27 L282.75 379.12 L283.00 376.91 L283.25 374.45 L283.50 371.30 L283.75 368.77 L284.00 365.52 L284.25 361.35 L284.50 357.50 L284.75 355.02 L285.00 352.12 L285.25 349.26 L285.50 346.39 L285.75 343.40 L286.00 341.98 L286.25 339.51 L286.50 339.75 L286.75 338.80 L287.00 338.20 L287.25 338.43 L287.50 338.20 L287.75 338.92 L288.00 339.84 L288.25 341.80 L288.50 344.49 L288.75 345.48 L289.00 347.67 L289.25 350.09 L289.50 352.88 L289.75 354.65 L290.00 356.85 L290.25 360.82 L290.50 362.40 L290.75 365.42 L291.00 367.61 L291.25 369.31 L291.50 371.44 L291.75 374.13 L292.00 376.91 L292.25 377.54 L292.50 380.57 L292.75 381.84 L293.00 382.56 L293.25 384.80 L293.50 386.12 L293.75 386.07 L294.00 387.10 L294.25 389.09 L294.50 389.79 L294.75 390.71 L295.00 391.63 L295.25 392.01 L295.50 391.27 L295.75 393.29 L296.00 393.45 L296.25 393.86 L296.50 393.67 L296.75 393.95 L297.00 394.20 L297.00 395.79999999999995 Z" fill="#00bdf0"/>
<rect x="268" y="322.9" width="72.9" height="72.9" fill="none" stroke="#9494e4" stroke-width="1.05"/>
<path d="M267.4 395.79999999999995H341.5" stroke="#3a44c8" stroke-width="1.5"/>
<path d="M268 350.7L294 350.7M294 350.7L294 347.2M294 347.2L340.4 347.2" stroke="#c6c6d6" stroke-width="0.6" fill="none"/>
<text x="270" y="327.29999999999995" class="t">FITC-A-</text>
<text x="270" y="332.59999999999997" class="t">97.1%</text>
<text x="338.9" y="327.29999999999995" class="t" text-anchor="end">FITC-A+</text>
<text x="338.9" y="332.59999999999997" class="t" text-anchor="end">2.907%</text>
<text x="275" y="405.29999999999995" class="t" text-anchor="middle">0</text>
<path d="M275 395.79999999999995V397.19999999999993" stroke="#3a44c8" stroke-width="0.6"/>
<text x="284" y="405.29999999999995" class="t" text-anchor="middle">10<tspan dy="-1.6" font-size="2.6">2</tspan></text>
<path d="M284 395.79999999999995V397.19999999999993" stroke="#3a44c8" stroke-width="0.6"/>
<text x="300.5" y="405.29999999999995" class="t" text-anchor="middle">10<tspan dy="-1.6" font-size="2.6">3</tspan></text>
<path d="M300.5 395.79999999999995V397.19999999999993" stroke="#3a44c8" stroke-width="0.6"/>
<text x="316.5" y="405.29999999999995" class="t" text-anchor="middle">10<tspan dy="-1.6" font-size="2.6">4</tspan></text>
<path d="M316.5 395.79999999999995V397.19999999999993" stroke="#3a44c8" stroke-width="0.6"/>
<text x="332.5" y="405.29999999999995" class="t" text-anchor="middle">10<tspan dy="-1.6" font-size="2.6">5</tspan></text>
<path d="M332.5 395.79999999999995V397.19999999999993" stroke="#3a44c8" stroke-width="0.6"/>
<text x="282.8" y="413.29999999999995" class="t2">CD271</text>
<text x="298.5" y="413.29999999999995" class="t">FITC-A</text>
<text x="263.4" y="396.99999999999994" class="t" text-anchor="middle">0</text>
<text transform="translate(11.6 258.2) rotate(-90)" class="t" style="font-size:4px" text-anchor="middle">Count</text>
<path d="M361 348H375.3" stroke="#333" stroke-width="2"/>
<text x="361" y="360.2" class="b" font-size="5.9" fill="#222" style="stroke-width:0.1px">Isotye control</text>
<path d="M361 365H375.3" stroke="#7fd3ea" stroke-width="1" stroke-dasharray="1 0.6"/>
<text x="361" y="376" class="b" font-size="5.85" fill="#222" style="stroke-width:0.1px">Positive</text>
<text x="406.6" y="211.5" class="b" font-size="19.5">D</text>
<path d="M509.9 227.9V276.4M504.3 276.4H514.2" stroke="#000" stroke-width="1.8" fill="none"/>
<path d="M504.3 227.9H509.9" stroke="#000" stroke-width="1.8"/>
<text x="499.8" y="232.1" class="b" font-size="12.5" text-anchor="end">80000</text>
<path d="M504.3 239.9H509.9" stroke="#000" stroke-width="1.8"/>
<text x="499.8" y="244.1" class="b" font-size="12.5" text-anchor="end">70000</text>
<path d="M504.3 252.1H509.9" stroke="#000" stroke-width="1.8"/>
<text x="499.8" y="256.3" class="b" font-size="12.5" text-anchor="end">60000</text>
<path d="M504.3 264.2H509.9" stroke="#000" stroke-width="1.8"/>
<text x="499.8" y="268.4" class="b" font-size="12.5" text-anchor="end">50000</text>
<path d="M504.3 276.4H509.9" stroke="#000" stroke-width="1.8"/>
<text x="499.8" y="280.6" class="b" font-size="12.5" text-anchor="end">40000</text>
<path d="M509.9 290.6V406.6M504.3 290.6H514.2" stroke="#000" stroke-width="1.8" fill="none"/>
<path d="M504.3 290.6H509.9" stroke="#000" stroke-width="1.8"/>
<text x="499.8" y="294.8" class="b" font-size="12.5" text-anchor="end">1000</text>
<path d="M504.3 313.6H509.9" stroke="#000" stroke-width="1.8"/>
<text x="499.8" y="317.8" class="b" font-size="12.5" text-anchor="end">800</text>
<path d="M504.3 336.7H509.9" stroke="#000" stroke-width="1.8"/>
<text x="499.8" y="340.9" class="b" font-size="12.5" text-anchor="end">600</text>
<path d="M504.3 359.7H509.9" stroke="#000" stroke-width="1.8"/>
<text x="499.8" y="363.9" class="b" font-size="12.5" text-anchor="end">400</text>
<path d="M504.3 382.8H509.9" stroke="#000" stroke-width="1.8"/>
<text x="499.8" y="387.0" class="b" font-size="12.5" text-anchor="end">200</text>
<path d="M504.3 405.8H509.9" stroke="#000" stroke-width="1.8"/>
<text x="499.8" y="410.0" class="b" font-size="12.5" text-anchor="end">0</text>
<path d="M509.09999999999997 405.8H775.5" stroke="#000" stroke-width="1.8"/>
<path d="M521.45 383.2V380.6M517.85 380.6H525.05" stroke="#000" stroke-width="1.9" stroke-linecap="round"/>
<rect x="516.95" y="383.15" width="9.00" height="22.65" fill="#ffffff" stroke="#000" stroke-width="1.9"/>
<path d="M521.45 405.8V411.3" stroke="#000" stroke-width="1.9"/>
<text x="529.3" y="426.4" class="bi" font-size="10.8" text-anchor="middle">CD44</text>
<path d="M559.45 390V388.2M555.85 388.2H563.05" stroke="#000" stroke-width="1.9" stroke-linecap="round"/>
<rect x="554.95" y="389.95" width="9.00" height="15.85" fill="#2fb6c3" stroke="#000" stroke-width="1.9"/>
<path d="M559.45 405.8V411.3" stroke="#000" stroke-width="1.9"/>
<text x="566.2" y="426.4" class="bi" font-size="10.8" text-anchor="middle">CD90</text>
<path d="M597.30 390V388.2M593.70 388.2H600.90" stroke="#000" stroke-width="1.9" stroke-linecap="round"/>
<rect x="592.85" y="389.95" width="8.90" height="15.85" fill="#5b8bd8" stroke="#000" stroke-width="1.9"/>
<path d="M597.30 405.8V411.3" stroke="#000" stroke-width="1.9"/>
<path d="M611.65 384.2V382.1M608.05 382.1H615.25" stroke="#000" stroke-width="1.9" stroke-linecap="round"/>
<rect x="607.25" y="384.15" width="8.80" height="21.65" fill="#5b8bd8" stroke="#000" stroke-width="1.9"/>
<path d="M611.65 405.8V411.3" stroke="#000" stroke-width="1.9"/>
<text x="605.2" y="426.4" class="bi" font-size="10.8" text-anchor="middle">CD105</text>
<path d="M635.20 343V337.2M631.60 337.2H638.80" stroke="#000" stroke-width="1.9" stroke-linecap="round"/>
<rect x="630.55" y="342.95" width="9.30" height="62.85" fill="#8c8c8c" stroke="#000" stroke-width="1.9"/>
<path d="M635.20 405.8V411.3" stroke="#000" stroke-width="1.9"/>
<path d="M649.25 340V333.1M645.65 333.1H652.85" stroke="#000" stroke-width="1.9" stroke-linecap="round"/>
<rect x="644.55" y="339.95" width="9.40" height="65.85" fill="#8c8c8c" stroke="#000" stroke-width="1.9"/>
<path d="M649.25 405.8V411.3" stroke="#000" stroke-width="1.9"/>
<text x="643.4" y="426.4" class="bi" font-size="10.8" text-anchor="middle">CD117</text>
<path d="M672.95 389.9V388M669.35 388H676.55" stroke="#000" stroke-width="1.9" stroke-linecap="round"/>
<rect x="668.35" y="389.85" width="9.20" height="15.95" fill="#4a46a2" stroke="#000" stroke-width="1.9"/>
<path d="M672.95 405.8V411.3" stroke="#000" stroke-width="1.9"/>
<path d="M686.95 391.8V389.9M683.35 389.9H690.55" stroke="#000" stroke-width="1.9" stroke-linecap="round"/>
<rect x="682.35" y="391.75" width="9.20" height="14.05" fill="#4a46a2" stroke="#000" stroke-width="1.9"/>
<path d="M686.95 405.8V411.3" stroke="#000" stroke-width="1.9"/>
<text x="680.6" y="426.4" class="bi" font-size="10.8" text-anchor="middle">CD45</text>
<path d="M710.60 386.2V384.3M707.00 384.3H714.20" stroke="#000" stroke-width="1.9" stroke-linecap="round"/>
<rect x="705.95" y="386.15" width="9.30" height="19.65" fill="#c4ba96" stroke="#000" stroke-width="1.9"/>
<path d="M710.60 405.8V411.3" stroke="#000" stroke-width="1.9"/>
<path d="M724.65 386.2V384.3M721.05 384.3H728.25" stroke="#000" stroke-width="1.9" stroke-linecap="round"/>
<rect x="720.05" y="386.15" width="9.20" height="19.65" fill="#c4ba96" stroke="#000" stroke-width="1.9"/>
<path d="M724.65 405.8V411.3" stroke="#000" stroke-width="1.9"/>
<text x="718" y="426.4" class="bi" font-size="10.8" text-anchor="middle">CD34</text>
<path d="M748.35 391.8V389.9M744.75 389.9H751.95" stroke="#000" stroke-width="1.9" stroke-linecap="round"/>
<rect x="743.75" y="391.75" width="9.20" height="14.05" fill="#2a1e1e" stroke="#000" stroke-width="1.9"/>
<path d="M748.35 405.8V411.3" stroke="#000" stroke-width="1.9"/>
<path d="M762.95 384V382.1M759.35 382.1H766.55" stroke="#000" stroke-width="1.9" stroke-linecap="round"/>
<rect x="758.25" y="383.95" width="9.40" height="21.85" fill="#2a1e1e" stroke="#000" stroke-width="1.9"/>
<path d="M762.95 405.8V411.3" stroke="#000" stroke-width="1.9"/>
<text x="756.3" y="426.4" class="bi" font-size="10.8" text-anchor="middle">CD271</text>
<path d="M535.85 249.7V241.8M532.25 241.8H539.45" stroke="#000" stroke-width="1.9" stroke-linecap="round"/>
<path d="M531.25 276.9V249.65H540.45V276.9" fill="#ffffff" stroke="#000" stroke-width="1.9"/>
<path d="M531.25 405.8V290.6H540.45V405.8" fill="#ffffff" stroke="none"/>
<path d="M531.25 405.8V290.6M540.45 290.6V405.8" fill="none" stroke="#000" stroke-width="1.9"/>
<path d="M535.85 405.8V411.3" stroke="#000" stroke-width="1.9"/>
<path d="M573.55 236.8V229.9M569.95 229.9H577.15" stroke="#000" stroke-width="1.9" stroke-linecap="round"/>
<path d="M568.95 276.9V236.75H578.15V276.9" fill="#2fb6c3" stroke="#000" stroke-width="1.9"/>
<path d="M568.95 405.8V290.6H578.15V405.8" fill="#2fb6c3" stroke="none"/>
<path d="M568.95 405.8V290.6M578.15 290.6V405.8" fill="none" stroke="#000" stroke-width="1.9"/>
<path d="M573.55 405.8V411.3" stroke="#000" stroke-width="1.9"/>
<text x="536.2" y="238.8" class="r" font-size="15.3" text-anchor="middle">***</text>
<text x="574.3" y="230.5" class="r" font-size="15.3" text-anchor="middle">***</text>
<text x="611.3" y="382" class="r" font-size="15.3" text-anchor="middle">*</text>
<text x="763.4" y="382.3" class="r" font-size="15.3" text-anchor="middle">*</text>
<text transform="translate(436.3 316) rotate(-90)" class="b" font-size="13.85" text-anchor="middle">Change in Mean Flourescence</text>
<text transform="translate(454 318.4) rotate(-90)" class="b" font-size="13.85" text-anchor="middle">Intensity (MFI)</text>
</svg>
</body></html>
